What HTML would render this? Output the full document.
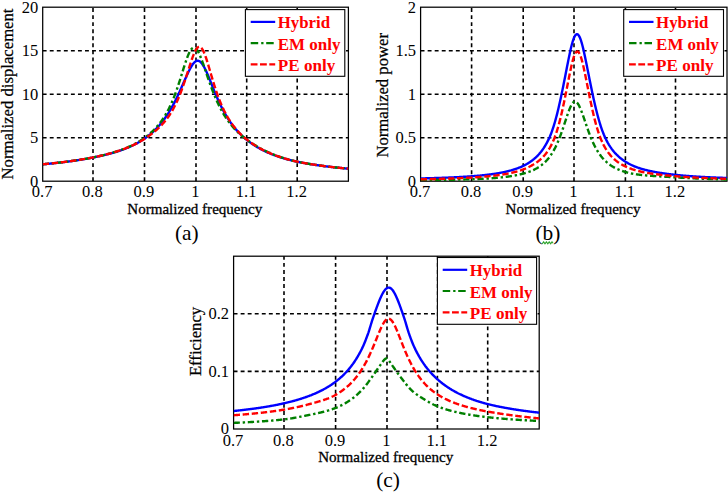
<!DOCTYPE html>
<html><head><meta charset="utf-8"><title>Frequency response</title>
<style>html,body{margin:0;padding:0;background:#fff;}svg{display:block;}text{font-family:"Liberation Serif",serif;fill:#000;}.tk{font-size:16.5px;}.lb{font-size:15.5px;stroke:#000;stroke-width:0.3px;}.yl{font-size:17px;stroke:#000;stroke-width:0.25px;}.cp{font-size:21.4px;}.lg{font-size:17px;font-weight:bold;fill:#ff0000;}</style></head><body>
<svg width="728" height="492" viewBox="0 0 728 492">
<rect x="0" y="0" width="728" height="492" fill="#ffffff"/>
<g id="panel-a">
<path d="M93.00 181.20V7.20M144.50 181.20V7.20M196.00 181.20V7.20M246.70 181.20V7.20M297.20 181.20V7.20M42.70 137.70H348.40M42.70 94.20H348.40M42.70 50.70H348.40" stroke="#000" stroke-width="1.6" stroke-dasharray="3.9 3.15" fill="none"/>
<rect x="42.7" y="7.2" width="305.70" height="174.00" fill="none" stroke="#000" stroke-width="1.25"/>
<clipPath id="clip-a"><rect x="42.7" y="7.2" width="305.7" height="174.0"/></clipPath>
<polyline points="42.70,164.31 43.20,164.26 43.71,164.22 44.21,164.17 44.71,164.13 45.22,164.08 45.72,164.03 46.22,163.98 46.72,163.94 47.23,163.89 47.73,163.84 48.23,163.79 48.74,163.74 49.24,163.69 49.74,163.64 50.25,163.59 50.75,163.54 51.25,163.49 51.75,163.44 52.26,163.39 52.76,163.34 53.26,163.28 53.77,163.23 54.27,163.18 54.77,163.12 55.28,163.07 55.78,163.02 56.28,162.96 56.78,162.91 57.29,162.85 57.79,162.79 58.29,162.74 58.80,162.68 59.30,162.62 59.80,162.57 60.31,162.51 60.81,162.45 61.31,162.39 61.81,162.33 62.32,162.27 62.82,162.21 63.32,162.15 63.83,162.09 64.33,162.03 64.83,161.97 65.34,161.90 65.84,161.84 66.34,161.78 66.84,161.71 67.35,161.65 67.85,161.58 68.35,161.52 68.86,161.45 69.36,161.38 69.86,161.32 70.37,161.25 70.87,161.18 71.37,161.11 71.87,161.04 72.38,160.97 72.88,160.90 73.38,160.83 73.89,160.76 74.39,160.69 74.89,160.61 75.40,160.54 75.90,160.46 76.40,160.39 76.90,160.31 77.41,160.24 77.91,160.16 78.41,160.08 78.92,160.01 79.42,159.93 79.92,159.85 80.42,159.77 80.93,159.69 81.43,159.60 81.93,159.52 82.44,159.44 82.94,159.35 83.44,159.27 83.95,159.18 84.45,159.10 84.95,159.01 85.45,158.92 85.96,158.84 86.46,158.75 86.96,158.66 87.47,158.57 87.97,158.47 88.47,158.38 88.98,158.29 89.48,158.19 89.98,158.10 90.48,158.00 90.99,157.91 91.49,157.81 91.99,157.71 92.50,157.61 93.00,157.51 93.51,157.41 94.03,157.30 94.54,157.20 95.06,157.10 95.57,156.99 96.09,156.88 96.60,156.78 97.12,156.67 97.63,156.56 98.15,156.45 98.66,156.34 99.18,156.23 99.69,156.12 100.21,156.00 100.72,155.89 101.24,155.77 101.75,155.66 102.27,155.54 102.78,155.42 103.30,155.30 103.81,155.18 104.33,155.05 104.84,154.93 105.36,154.81 105.87,154.68 106.39,154.55 106.90,154.42 107.42,154.29 107.93,154.16 108.45,154.03 108.96,153.89 109.48,153.76 109.99,153.62 110.51,153.48 111.02,153.34 111.54,153.20 112.05,153.05 112.57,152.91 113.08,152.76 113.60,152.61 114.11,152.46 114.63,152.31 115.14,152.15 115.66,152.00 116.17,151.84 116.69,151.68 117.20,151.52 117.72,151.35 118.23,151.19 118.75,151.02 119.26,150.85 119.78,150.67 120.29,150.50 120.81,150.32 121.32,150.14 121.84,149.96 122.35,149.78 122.87,149.59 123.38,149.40 123.90,149.21 124.41,149.01 124.93,148.82 125.44,148.62 125.96,148.41 126.47,148.21 126.99,148.00 127.50,147.79 128.02,147.58 128.53,147.36 129.05,147.14 129.56,146.91 130.08,146.69 130.59,146.45 131.11,146.22 131.62,145.98 132.14,145.74 132.65,145.50 133.17,145.25 133.69,145.00 134.20,144.74 134.71,144.48 135.23,144.21 135.75,143.95 136.26,143.67 136.77,143.40 137.29,143.11 137.81,142.83 138.32,142.54 138.83,142.24 139.35,141.94 139.87,141.63 140.38,141.32 140.89,141.01 141.41,140.69 141.93,140.36 142.44,140.03 142.95,139.69 143.47,139.34 143.99,138.99 144.50,138.64 145.01,138.28 145.53,137.91 146.05,137.53 146.56,137.15 147.07,136.76 147.59,136.37 148.11,135.97 148.62,135.56 149.13,135.15 149.65,134.73 150.17,134.30 150.68,133.87 151.19,133.42 151.71,132.97 152.23,132.52 152.74,132.05 153.25,131.58 153.77,131.10 154.29,130.61 154.80,130.11 155.31,129.60 155.83,129.08 156.35,128.56 156.86,128.02 157.38,127.48 157.89,126.92 158.41,126.36 158.92,125.78 159.44,125.20 159.95,124.60 160.47,123.99 160.98,123.38 161.50,122.75 162.01,122.10 162.53,121.45 163.04,120.78 163.56,120.11 164.07,119.42 164.59,118.71 165.10,117.99 165.62,117.26 166.13,116.52 166.65,115.76 167.16,114.99 167.68,114.20 168.19,113.40 168.71,112.59 169.22,111.75 169.74,110.91 170.25,110.05 170.77,109.17 171.28,108.28 171.80,107.37 172.31,106.44 172.83,105.50 173.34,104.55 173.86,103.57 174.37,102.58 174.89,101.58 175.40,100.56 175.92,99.52 176.43,98.47 176.95,97.41 177.46,96.32 177.98,95.23 178.49,94.12 179.01,93.00 179.52,91.87 180.04,90.73 180.55,89.59 181.07,88.43 181.58,87.27 182.10,86.11 182.61,84.94 183.13,83.76 183.64,82.59 184.16,81.42 184.67,80.25 185.19,79.08 185.70,77.92 186.22,76.77 186.73,75.63 187.25,74.51 187.76,73.40 188.28,72.31 188.79,71.25 189.31,70.22 189.82,69.22 190.34,68.25 190.85,67.33 191.37,66.45 191.88,65.61 192.40,64.83 192.91,64.11 193.43,63.44 193.94,62.84 194.46,62.31 194.97,61.85 195.49,61.46 196.00,61.15 196.51,60.92 197.01,60.78 197.52,60.71 198.03,60.73 198.53,60.83 199.04,61.01 199.55,61.28 200.06,61.62 200.56,62.05 201.07,62.55 201.58,63.13 202.08,63.78 202.59,64.50 203.10,65.28 203.61,66.13 204.11,67.03 204.62,67.98 205.13,68.98 205.63,70.03 206.14,71.11 206.65,72.23 207.15,73.39 207.66,74.56 208.17,75.77 208.67,76.99 209.18,78.23 209.69,79.48 210.20,80.74 210.70,82.00 211.21,83.27 211.72,84.54 212.22,85.81 212.73,87.08 213.24,88.34 213.75,89.59 214.25,90.83 214.76,92.07 215.27,93.29 215.77,94.50 216.28,95.69 216.79,96.87 217.29,98.04 217.80,99.19 218.31,100.32 218.81,101.44 219.32,102.53 219.83,103.61 220.34,104.68 220.84,105.72 221.35,106.75 221.86,107.76 222.36,108.75 222.87,109.73 223.38,110.68 223.89,111.62 224.39,112.54 224.90,113.45 225.41,114.34 225.91,115.21 226.42,116.06 226.93,116.90 227.43,117.72 227.94,118.53 228.45,119.32 228.95,120.09 229.46,120.85 229.97,121.60 230.48,122.33 230.98,123.05 231.49,123.75 232.00,124.44 232.50,125.12 233.01,125.79 233.52,126.44 234.03,127.08 234.53,127.71 235.04,128.32 235.55,128.93 236.05,129.52 236.56,130.10 237.07,130.68 237.57,131.24 238.08,131.79 238.59,132.33 239.09,132.86 239.60,133.39 240.11,133.90 240.62,134.40 241.12,134.90 241.63,135.38 242.14,135.86 242.64,136.33 243.15,136.79 243.66,137.25 244.16,137.70 244.67,138.13 245.18,138.57 245.69,138.99 246.19,139.41 246.70,139.82 247.20,140.23 247.71,140.63 248.21,141.02 248.72,141.40 249.22,141.78 249.73,142.16 250.23,142.53 250.74,142.89 251.24,143.25 251.75,143.60 252.25,143.95 252.76,144.29 253.26,144.63 253.77,144.96 254.27,145.28 254.78,145.61 255.28,145.92 255.79,146.24 256.29,146.54 256.80,146.85 257.30,147.15 257.81,147.44 258.31,147.73 258.82,148.02 259.32,148.30 259.83,148.58 260.33,148.86 260.84,149.13 261.34,149.39 261.85,149.66 262.35,149.92 262.86,150.18 263.36,150.43 263.87,150.68 264.38,150.92 264.88,151.17 265.38,151.41 265.89,151.64 266.39,151.88 266.90,152.11 267.40,152.33 267.91,152.56 268.41,152.78 268.92,153.00 269.42,153.21 269.93,153.43 270.44,153.64 270.94,153.84 271.44,154.05 271.95,154.25 272.45,154.45 272.96,154.65 273.46,154.84 273.97,155.03 274.48,155.22 274.98,155.41 275.49,155.59 275.99,155.78 276.50,155.95 277.00,156.13 277.50,156.31 278.01,156.48 278.51,156.65 279.02,156.82 279.52,156.99 280.03,157.15 280.54,157.32 281.04,157.48 281.55,157.63 282.05,157.79 282.56,157.95 283.06,158.10 283.56,158.25 284.07,158.40 284.58,158.55 285.08,158.69 285.59,158.83 286.09,158.98 286.60,159.12 287.10,159.26 287.61,159.39 288.11,159.53 288.62,159.66 289.12,159.79 289.62,159.92 290.13,160.05 290.64,160.18 291.14,160.30 291.65,160.43 292.15,160.55 292.66,160.67 293.16,160.79 293.67,160.90 294.17,161.02 294.68,161.13 295.18,161.25 295.69,161.36 296.19,161.47 296.70,161.58 297.20,161.69 297.71,161.79 298.22,161.90 298.74,162.00 299.25,162.11 299.76,162.21 300.27,162.31 300.78,162.41 301.30,162.51 301.81,162.61 302.32,162.71 302.83,162.80 303.34,162.90 303.86,162.99 304.37,163.09 304.88,163.18 305.39,163.27 305.90,163.36 306.42,163.45 306.93,163.54 307.44,163.63 307.95,163.72 308.46,163.81 308.98,163.89 309.49,163.98 310.00,164.06 310.51,164.15 311.02,164.23 311.54,164.31 312.05,164.39 312.56,164.47 313.07,164.55 313.58,164.63 314.10,164.71 314.61,164.79 315.12,164.87 315.63,164.94 316.14,165.02 316.66,165.09 317.17,165.17 317.68,165.24 318.19,165.31 318.70,165.39 319.22,165.46 319.73,165.53 320.24,165.60 320.75,165.67 321.26,165.74 321.78,165.81 322.29,165.88 322.80,165.94 323.31,166.01 323.82,166.08 324.34,166.14 324.85,166.21 325.36,166.27 325.87,166.34 326.38,166.40 326.90,166.46 327.41,166.53 327.92,166.59 328.43,166.65 328.94,166.71 329.46,166.77 329.97,166.83 330.48,166.89 330.99,166.95 331.50,167.00 332.02,167.06 332.53,167.12 333.04,167.18 333.55,167.23 334.06,167.29 334.58,167.34 335.09,167.40 335.60,167.45 336.11,167.50 336.62,167.56 337.14,167.61 337.65,167.66 338.16,167.71 338.67,167.77 339.18,167.82 339.70,167.87 340.21,167.92 340.72,167.97 341.23,168.02 341.74,168.06 342.26,168.11 342.77,168.16 343.28,168.21 343.79,168.25 344.30,168.30 344.82,168.35 345.33,168.39 345.84,168.44 346.35,168.48 346.86,168.53 347.38,168.57 347.89,168.62 348.40,168.66" fill="none" stroke="#0000ff" stroke-width="2.4"  stroke-linejoin="round" clip-path="url(#clip-a)"/>
<polyline points="42.70,164.28 43.20,164.23 43.71,164.19 44.21,164.14 44.71,164.09 45.22,164.04 45.72,163.99 46.22,163.95 46.72,163.90 47.23,163.85 47.73,163.80 48.23,163.75 48.74,163.70 49.24,163.65 49.74,163.60 50.25,163.55 50.75,163.50 51.25,163.44 51.75,163.39 52.26,163.34 52.76,163.29 53.26,163.23 53.77,163.18 54.27,163.13 54.77,163.07 55.28,163.02 55.78,162.96 56.28,162.91 56.78,162.85 57.29,162.79 57.79,162.74 58.29,162.68 58.80,162.62 59.30,162.57 59.80,162.51 60.31,162.45 60.81,162.39 61.31,162.33 61.81,162.27 62.32,162.21 62.82,162.15 63.32,162.09 63.83,162.02 64.33,161.96 64.83,161.90 65.34,161.84 65.84,161.77 66.34,161.71 66.84,161.64 67.35,161.58 67.85,161.51 68.35,161.45 68.86,161.38 69.36,161.31 69.86,161.24 70.37,161.18 70.87,161.11 71.37,161.04 71.87,160.97 72.38,160.90 72.88,160.83 73.38,160.75 73.89,160.68 74.39,160.61 74.89,160.54 75.40,160.46 75.90,160.39 76.40,160.31 76.90,160.24 77.41,160.16 77.91,160.08 78.41,160.00 78.92,159.93 79.42,159.85 79.92,159.77 80.42,159.69 80.93,159.60 81.43,159.52 81.93,159.44 82.44,159.36 82.94,159.27 83.44,159.19 83.95,159.10 84.45,159.02 84.95,158.93 85.45,158.84 85.96,158.75 86.46,158.66 86.96,158.57 87.47,158.48 87.97,158.39 88.47,158.30 88.98,158.20 89.48,158.11 89.98,158.01 90.48,157.91 90.99,157.82 91.49,157.72 91.99,157.62 92.50,157.52 93.00,157.42 93.51,157.32 94.03,157.21 94.54,157.11 95.06,157.00 95.57,156.90 96.09,156.79 96.60,156.68 97.12,156.57 97.63,156.46 98.15,156.35 98.66,156.24 99.18,156.13 99.69,156.01 100.21,155.89 100.72,155.78 101.24,155.66 101.75,155.54 102.27,155.42 102.78,155.30 103.30,155.17 103.81,155.05 104.33,154.92 104.84,154.79 105.36,154.66 105.87,154.53 106.39,154.40 106.90,154.27 107.42,154.13 107.93,154.00 108.45,153.86 108.96,153.72 109.48,153.58 109.99,153.44 110.51,153.29 111.02,153.15 111.54,153.00 112.05,152.85 112.57,152.70 113.08,152.55 113.60,152.39 114.11,152.24 114.63,152.08 115.14,151.92 115.66,151.75 116.17,151.59 116.69,151.42 117.20,151.26 117.72,151.09 118.23,150.91 118.75,150.74 119.26,150.56 119.78,150.38 120.29,150.20 120.81,150.02 121.32,149.83 121.84,149.64 122.35,149.45 122.87,149.25 123.38,149.06 123.90,148.86 124.41,148.66 124.93,148.45 125.44,148.24 125.96,148.03 126.47,147.82 126.99,147.60 127.50,147.39 128.02,147.16 128.53,146.94 129.05,146.71 129.56,146.48 130.08,146.24 130.59,146.00 131.11,145.76 131.62,145.51 132.14,145.26 132.65,145.01 133.17,144.75 133.69,144.49 134.20,144.22 134.71,143.95 135.23,143.68 135.75,143.40 136.26,143.12 136.77,142.83 137.29,142.54 137.81,142.24 138.32,141.94 138.83,141.63 139.35,141.32 139.87,141.00 140.38,140.68 140.89,140.35 141.41,140.02 141.93,139.68 142.44,139.33 142.95,138.98 143.47,138.62 143.99,138.26 144.50,137.89 145.01,137.51 145.53,137.13 146.05,136.74 146.56,136.35 147.07,135.94 147.59,135.54 148.11,135.12 148.62,134.70 149.13,134.27 149.65,133.83 150.17,133.39 150.68,132.93 151.19,132.47 151.71,132.00 152.23,131.52 152.74,131.03 153.25,130.53 153.77,130.02 154.29,129.50 154.80,128.97 155.31,128.43 155.83,127.88 156.35,127.32 156.86,126.74 157.38,126.15 157.89,125.55 158.41,124.93 158.92,124.30 159.44,123.66 159.95,123.00 160.47,122.32 160.98,121.63 161.50,120.92 162.01,120.20 162.53,119.45 163.04,118.69 163.56,117.91 164.07,117.12 164.59,116.30 165.10,115.46 165.62,114.60 166.13,113.71 166.65,112.81 167.16,111.88 167.68,110.93 168.19,109.95 168.71,108.95 169.22,107.93 169.74,106.87 170.25,105.79 170.77,104.69 171.28,103.55 171.80,102.39 172.31,101.20 172.83,99.98 173.34,98.72 173.86,97.44 174.37,96.13 174.89,94.79 175.40,93.42 175.92,92.01 176.43,90.58 176.95,89.11 177.46,87.62 177.98,86.10 178.49,84.55 179.01,82.98 179.52,81.38 180.04,79.77 180.55,78.14 181.07,76.49 181.58,74.84 182.10,73.18 182.61,71.52 183.13,69.86 183.64,68.21 184.16,66.58 184.67,64.97 185.19,63.39 185.70,61.84 186.22,60.33 186.73,58.87 187.25,57.47 187.76,56.14 188.28,54.87 188.79,53.69 189.31,52.59 189.82,51.59 190.34,50.69 190.85,49.90 191.37,49.22 191.88,48.66 192.40,48.22 192.91,47.91 193.43,47.72 193.94,47.66 194.46,47.72 194.97,47.91 195.49,48.22 196.00,48.65 196.51,49.19 197.01,49.84 197.52,50.60 198.03,51.46 198.53,52.40 199.04,53.43 199.55,54.53 200.06,55.70 200.56,56.94 201.07,58.22 201.58,59.55 202.08,60.92 202.59,62.33 203.10,63.76 203.61,65.21 204.11,66.68 204.62,68.16 205.13,69.65 205.63,71.14 206.14,72.63 206.65,74.12 207.15,75.60 207.66,77.08 208.17,78.54 208.67,79.99 209.18,81.43 209.69,82.85 210.20,84.26 210.70,85.65 211.21,87.02 211.72,88.37 212.22,89.71 212.73,91.02 213.24,92.32 213.75,93.60 214.25,94.85 214.76,96.09 215.27,97.30 215.77,98.49 216.28,99.65 216.79,100.79 217.29,101.91 217.80,103.01 218.31,104.08 218.81,105.13 219.32,106.16 219.83,107.17 220.34,108.16 220.84,109.12 221.35,110.07 221.86,111.00 222.36,111.90 222.87,112.79 223.38,113.66 223.89,114.51 224.39,115.34 224.90,116.16 225.41,116.96 225.91,117.74 226.42,118.51 226.93,119.26 227.43,119.99 227.94,120.71 228.45,121.42 228.95,122.11 229.46,122.78 229.97,123.45 230.48,124.10 230.98,124.73 231.49,125.36 232.00,125.97 232.50,126.57 233.01,127.16 233.52,127.74 234.03,128.31 234.53,128.86 235.04,129.41 235.55,129.94 236.05,130.47 236.56,130.99 237.07,131.49 237.57,131.99 238.08,132.48 238.59,132.96 239.09,133.43 239.60,133.89 240.11,134.34 240.62,134.79 241.12,135.23 241.63,135.66 242.14,136.08 242.64,136.50 243.15,136.91 243.66,137.31 244.16,137.71 244.67,138.10 245.18,138.48 245.69,138.87 246.19,139.24 246.70,139.61 247.20,139.98 247.71,140.35 248.21,140.71 248.72,141.06 249.22,141.41 249.73,141.76 250.23,142.10 250.74,142.44 251.24,142.78 251.75,143.11 252.25,143.44 252.76,143.76 253.26,144.08 253.77,144.40 254.27,144.71 254.78,145.03 255.28,145.33 255.79,145.64 256.29,145.94 256.80,146.23 257.30,146.53 257.81,146.82 258.31,147.11 258.82,147.39 259.32,147.67 259.83,147.95 260.33,148.22 260.84,148.50 261.34,148.77 261.85,149.03 262.35,149.29 262.86,149.56 263.36,149.81 263.87,150.07 264.38,150.32 264.88,150.57 265.38,150.82 265.89,151.06 266.39,151.30 266.90,151.54 267.40,151.77 267.91,152.01 268.41,152.24 268.92,152.47 269.42,152.69 269.93,152.92 270.44,153.14 270.94,153.35 271.44,153.57 271.95,153.78 272.45,153.99 272.96,154.20 273.46,154.41 273.97,154.61 274.48,154.81 274.98,155.01 275.49,155.21 275.99,155.40 276.50,155.59 277.00,155.78 277.50,155.97 278.01,156.16 278.51,156.34 279.02,156.52 279.52,156.70 280.03,156.87 280.54,157.05 281.04,157.22 281.55,157.39 282.05,157.56 282.56,157.72 283.06,157.89 283.56,158.05 284.07,158.21 284.58,158.36 285.08,158.52 285.59,158.67 286.09,158.82 286.60,158.97 287.10,159.12 287.61,159.26 288.11,159.41 288.62,159.55 289.12,159.68 289.62,159.82 290.13,159.96 290.64,160.09 291.14,160.22 291.65,160.35 292.15,160.48 292.66,160.60 293.16,160.73 293.67,160.85 294.17,160.97 294.68,161.08 295.18,161.20 295.69,161.31 296.19,161.42 296.70,161.54 297.20,161.64 297.71,161.75 298.22,161.86 298.74,161.96 299.25,162.06 299.76,162.17 300.27,162.27 300.78,162.37 301.30,162.47 301.81,162.57 302.32,162.67 302.83,162.76 303.34,162.86 303.86,162.96 304.37,163.05 304.88,163.14 305.39,163.24 305.90,163.33 306.42,163.42 306.93,163.51 307.44,163.60 307.95,163.69 308.46,163.77 308.98,163.86 309.49,163.95 310.00,164.03 310.51,164.12 311.02,164.20 311.54,164.28 312.05,164.37 312.56,164.45 313.07,164.53 313.58,164.61 314.10,164.69 314.61,164.77 315.12,164.84 315.63,164.92 316.14,165.00 316.66,165.07 317.17,165.15 317.68,165.22 318.19,165.30 318.70,165.37 319.22,165.44 319.73,165.51 320.24,165.58 320.75,165.65 321.26,165.72 321.78,165.79 322.29,165.86 322.80,165.93 323.31,166.00 323.82,166.06 324.34,166.13 324.85,166.20 325.36,166.26 325.87,166.32 326.38,166.39 326.90,166.45 327.41,166.51 327.92,166.58 328.43,166.64 328.94,166.70 329.46,166.76 329.97,166.82 330.48,166.88 330.99,166.94 331.50,167.00 332.02,167.05 332.53,167.11 333.04,167.17 333.55,167.22 334.06,167.28 334.58,167.33 335.09,167.39 335.60,167.44 336.11,167.50 336.62,167.55 337.14,167.60 337.65,167.66 338.16,167.71 338.67,167.76 339.18,167.81 339.70,167.86 340.21,167.91 340.72,167.96 341.23,168.01 341.74,168.06 342.26,168.10 342.77,168.15 343.28,168.20 343.79,168.25 344.30,168.29 344.82,168.34 345.33,168.38 345.84,168.43 346.35,168.47 346.86,168.52 347.38,168.56 347.89,168.61 348.40,168.65" fill="none" stroke="#007f00" stroke-width="2.4" stroke-dasharray="6.3 2.8 2.4 2.7" stroke-linejoin="round" clip-path="url(#clip-a)"/>
<polyline points="42.70,164.28 43.20,164.23 43.71,164.18 44.21,164.13 44.71,164.09 45.22,164.04 45.72,163.99 46.22,163.94 46.72,163.89 47.23,163.84 47.73,163.79 48.23,163.74 48.74,163.69 49.24,163.64 49.74,163.59 50.25,163.54 50.75,163.49 51.25,163.43 51.75,163.38 52.26,163.33 52.76,163.27 53.26,163.22 53.77,163.17 54.27,163.11 54.77,163.06 55.28,163.00 55.78,162.95 56.28,162.89 56.78,162.84 57.29,162.78 57.79,162.72 58.29,162.66 58.80,162.61 59.30,162.55 59.80,162.49 60.31,162.43 60.81,162.37 61.31,162.31 61.81,162.25 62.32,162.19 62.82,162.13 63.32,162.07 63.83,162.00 64.33,161.94 64.83,161.88 65.34,161.81 65.84,161.75 66.34,161.69 66.84,161.62 67.35,161.56 67.85,161.49 68.35,161.42 68.86,161.36 69.36,161.29 69.86,161.22 70.37,161.15 70.87,161.08 71.37,161.01 71.87,160.94 72.38,160.87 72.88,160.80 73.38,160.73 73.89,160.66 74.39,160.58 74.89,160.51 75.40,160.44 75.90,160.36 76.40,160.29 76.90,160.21 77.41,160.14 77.91,160.06 78.41,159.98 78.92,159.90 79.42,159.82 79.92,159.74 80.42,159.66 80.93,159.58 81.43,159.50 81.93,159.42 82.44,159.33 82.94,159.25 83.44,159.17 83.95,159.08 84.45,159.00 84.95,158.91 85.45,158.82 85.96,158.73 86.46,158.64 86.96,158.55 87.47,158.46 87.97,158.37 88.47,158.28 88.98,158.19 89.48,158.09 89.98,158.00 90.48,157.90 90.99,157.81 91.49,157.71 91.99,157.61 92.50,157.51 93.00,157.41 93.51,157.31 94.03,157.21 94.54,157.11 95.06,157.00 95.57,156.90 96.09,156.79 96.60,156.68 97.12,156.58 97.63,156.47 98.15,156.35 98.66,156.24 99.18,156.13 99.69,156.02 100.21,155.90 100.72,155.78 101.24,155.67 101.75,155.55 102.27,155.43 102.78,155.30 103.30,155.18 103.81,155.06 104.33,154.93 104.84,154.80 105.36,154.68 105.87,154.55 106.39,154.41 106.90,154.28 107.42,154.15 107.93,154.01 108.45,153.88 108.96,153.74 109.48,153.60 109.99,153.46 110.51,153.31 111.02,153.17 111.54,153.02 112.05,152.87 112.57,152.73 113.08,152.57 113.60,152.42 114.11,152.27 114.63,152.11 115.14,151.95 115.66,151.79 116.17,151.63 116.69,151.47 117.20,151.30 117.72,151.14 118.23,150.97 118.75,150.80 119.26,150.62 119.78,150.45 120.29,150.27 120.81,150.09 121.32,149.91 121.84,149.73 122.35,149.55 122.87,149.36 123.38,149.17 123.90,148.98 124.41,148.78 124.93,148.59 125.44,148.39 125.96,148.18 126.47,147.98 126.99,147.77 127.50,147.57 128.02,147.35 128.53,147.14 129.05,146.92 129.56,146.70 130.08,146.48 130.59,146.26 131.11,146.03 131.62,145.80 132.14,145.56 132.65,145.33 133.17,145.09 133.69,144.84 134.20,144.60 134.71,144.35 135.23,144.09 135.75,143.84 136.26,143.58 136.77,143.31 137.29,143.05 137.81,142.78 138.32,142.50 138.83,142.22 139.35,141.94 139.87,141.65 140.38,141.36 140.89,141.07 141.41,140.77 141.93,140.47 142.44,140.16 142.95,139.85 143.47,139.53 143.99,139.21 144.50,138.88 145.01,138.55 145.53,138.21 146.05,137.87 146.56,137.53 147.07,137.17 147.59,136.82 148.11,136.46 148.62,136.10 149.13,135.74 149.65,135.37 150.17,134.99 150.68,134.61 151.19,134.23 151.71,133.84 152.23,133.44 152.74,133.04 153.25,132.64 153.77,132.23 154.29,131.81 154.80,131.38 155.31,130.95 155.83,130.51 156.35,130.07 156.86,129.61 157.38,129.15 157.89,128.68 158.41,128.20 158.92,127.72 159.44,127.22 159.95,126.71 160.47,126.20 160.98,125.67 161.50,125.14 162.01,124.59 162.53,124.03 163.04,123.46 163.56,122.87 164.07,122.27 164.59,121.66 165.10,121.04 165.62,120.40 166.13,119.75 166.65,119.08 167.16,118.39 167.68,117.69 168.19,116.98 168.71,116.24 169.22,115.49 169.74,114.71 170.25,113.92 170.77,113.11 171.28,112.27 171.80,111.42 172.31,110.54 172.83,109.64 173.34,108.72 173.86,107.77 174.37,106.79 174.89,105.80 175.40,104.77 175.92,103.72 176.43,102.64 176.95,101.53 177.46,100.39 177.98,99.23 178.49,98.03 179.01,96.81 179.52,95.55 180.04,94.27 180.55,92.95 181.07,91.60 181.58,90.23 182.10,88.83 182.61,87.40 183.13,85.94 183.64,84.46 184.16,82.96 184.67,81.43 185.19,79.88 185.70,78.31 186.22,76.72 186.73,75.12 187.25,73.51 187.76,71.89 188.28,70.27 188.79,68.64 189.31,67.03 189.82,65.42 190.34,63.84 190.85,62.27 191.37,60.74 191.88,59.24 192.40,57.79 192.91,56.40 193.43,55.06 193.94,53.80 194.46,52.62 194.97,51.52 195.49,50.52 196.00,49.62 196.51,48.84 197.01,48.17 197.52,47.63 198.03,47.22 198.53,46.94 199.04,46.80 199.55,46.80 200.06,46.94 200.56,47.22 201.07,47.64 201.58,48.19 202.08,48.87 202.59,49.68 203.10,50.60 203.61,51.64 204.11,52.78 204.62,54.02 205.13,55.34 205.63,56.75 206.14,58.22 206.65,59.75 207.15,61.34 207.66,62.97 208.17,64.63 208.67,66.33 209.18,68.04 209.69,69.77 210.20,71.51 210.70,73.24 211.21,74.98 211.72,76.70 212.22,78.41 212.73,80.11 213.24,81.79 213.75,83.44 214.25,85.07 214.76,86.67 215.27,88.24 215.77,89.78 216.28,91.29 216.79,92.76 217.29,94.21 217.80,95.61 218.31,96.99 218.81,98.34 219.32,99.65 219.83,100.94 220.34,102.19 220.84,103.41 221.35,104.61 221.86,105.77 222.36,106.91 222.87,108.02 223.38,109.10 223.89,110.15 224.39,111.18 224.90,112.19 225.41,113.16 225.91,114.12 226.42,115.05 226.93,115.96 227.43,116.85 227.94,117.71 228.45,118.56 228.95,119.39 229.46,120.19 229.97,120.98 230.48,121.75 230.98,122.50 231.49,123.23 232.00,123.95 232.50,124.65 233.01,125.34 233.52,126.01 234.03,126.67 234.53,127.31 235.04,127.94 235.55,128.55 236.05,129.15 236.56,129.74 237.07,130.32 237.57,130.89 238.08,131.44 238.59,131.99 239.09,132.52 239.60,133.05 240.11,133.56 240.62,134.07 241.12,134.56 241.63,135.05 242.14,135.52 242.64,135.99 243.15,136.45 243.66,136.91 244.16,137.35 244.67,137.79 245.18,138.22 245.69,138.65 246.19,139.06 246.70,139.48 247.20,139.88 247.71,140.28 248.21,140.67 248.72,141.06 249.22,141.44 249.73,141.81 250.23,142.18 250.74,142.54 251.24,142.90 251.75,143.26 252.25,143.60 252.76,143.95 253.26,144.28 253.77,144.62 254.27,144.95 254.78,145.27 255.28,145.59 255.79,145.90 256.29,146.21 256.80,146.52 257.30,146.82 257.81,147.12 258.31,147.41 258.82,147.70 259.32,147.99 259.83,148.27 260.33,148.55 260.84,148.82 261.34,149.09 261.85,149.36 262.35,149.62 262.86,149.89 263.36,150.14 263.87,150.40 264.38,150.65 264.88,150.89 265.38,151.14 265.89,151.38 266.39,151.62 266.90,151.85 267.40,152.08 267.91,152.31 268.41,152.54 268.92,152.76 269.42,152.98 269.93,153.20 270.44,153.41 270.94,153.62 271.44,153.83 271.95,154.04 272.45,154.24 272.96,154.44 273.46,154.64 273.97,154.84 274.48,155.03 274.98,155.22 275.49,155.41 275.99,155.60 276.50,155.79 277.00,155.97 277.50,156.15 278.01,156.33 278.51,156.50 279.02,156.67 279.52,156.85 280.03,157.01 280.54,157.18 281.04,157.35 281.55,157.51 282.05,157.67 282.56,157.83 283.06,157.99 283.56,158.14 284.07,158.29 284.58,158.44 285.08,158.59 285.59,158.74 286.09,158.89 286.60,159.03 287.10,159.17 287.61,159.31 288.11,159.45 288.62,159.58 289.12,159.72 289.62,159.85 290.13,159.98 290.64,160.11 291.14,160.24 291.65,160.36 292.15,160.49 292.66,160.61 293.16,160.73 293.67,160.85 294.17,160.97 294.68,161.08 295.18,161.20 295.69,161.31 296.19,161.42 296.70,161.53 297.20,161.64 297.71,161.75 298.22,161.85 298.74,161.96 299.25,162.06 299.76,162.16 300.27,162.27 300.78,162.37 301.30,162.47 301.81,162.57 302.32,162.66 302.83,162.76 303.34,162.86 303.86,162.95 304.37,163.04 304.88,163.14 305.39,163.23 305.90,163.32 306.42,163.41 306.93,163.50 307.44,163.59 307.95,163.68 308.46,163.76 308.98,163.85 309.49,163.94 310.00,164.02 310.51,164.11 311.02,164.19 311.54,164.27 312.05,164.35 312.56,164.43 313.07,164.51 313.58,164.59 314.10,164.67 314.61,164.75 315.12,164.83 315.63,164.90 316.14,164.98 316.66,165.05 317.17,165.13 317.68,165.20 318.19,165.28 318.70,165.35 319.22,165.42 319.73,165.49 320.24,165.56 320.75,165.63 321.26,165.70 321.78,165.77 322.29,165.84 322.80,165.91 323.31,165.97 323.82,166.04 324.34,166.10 324.85,166.17 325.36,166.23 325.87,166.30 326.38,166.36 326.90,166.43 327.41,166.49 327.92,166.55 328.43,166.61 328.94,166.67 329.46,166.73 329.97,166.79 330.48,166.85 330.99,166.91 331.50,166.97 332.02,167.03 332.53,167.08 333.04,167.14 333.55,167.20 334.06,167.25 334.58,167.31 335.09,167.36 335.60,167.42 336.11,167.47 336.62,167.53 337.14,167.58 337.65,167.63 338.16,167.69 338.67,167.74 339.18,167.79 339.70,167.84 340.21,167.89 340.72,167.94 341.23,167.99 341.74,168.04 342.26,168.09 342.77,168.14 343.28,168.19 343.79,168.23 344.30,168.28 344.82,168.33 345.33,168.38 345.84,168.42 346.35,168.47 346.86,168.51 347.38,168.56 347.89,168.60 348.40,168.65" fill="none" stroke="#ff0000" stroke-width="2.4" stroke-dasharray="6.4 2.7" stroke-linejoin="round" clip-path="url(#clip-a)"/>
<text class="tk" x="42.1" y="197.0" text-anchor="middle">0.7</text>
<text class="tk" x="92.4" y="197.0" text-anchor="middle">0.8</text>
<text class="tk" x="143.9" y="197.0" text-anchor="middle">0.9</text>
<text class="tk" x="195.4" y="197.0" text-anchor="middle">1</text>
<text class="tk" x="246.1" y="197.0" text-anchor="middle">1.1</text>
<text class="tk" x="296.6" y="197.0" text-anchor="middle">1.2</text>
<text class="tk" x="38.2" y="186.5" text-anchor="end">0</text>
<text class="tk" x="38.2" y="143.0" text-anchor="end">5</text>
<text class="tk" x="38.2" y="99.5" text-anchor="end">10</text>
<text class="tk" x="38.2" y="56.0" text-anchor="end">15</text>
<text class="tk" x="38.2" y="12.5" text-anchor="end">20</text>
<text class="lb" x="127.3" y="214.1" textLength="135" lengthAdjust="spacingAndGlyphs">Normalized frequency</text>
<text class="yl" transform="translate(13.4,179.5) rotate(-90)" textLength="171" lengthAdjust="spacingAndGlyphs">Normalized displacement</text>
<text class="cp" x="186.8" y="239.6" text-anchor="middle">(a)</text>
<rect x="244.4" y="9.1" width="101.40" height="68.20" fill="#fff"/>
<rect x="245.4" y="9.6" width="99.40" height="66.70" fill="#fff" stroke="#000" stroke-width="1.1"/>
<line x1="250.7" y1="21.9" x2="275.2" y2="21.9" stroke="#0000ff" stroke-width="2.2" />
<text class="lg" x="277.8" y="27.7" textLength="52.3" lengthAdjust="spacingAndGlyphs">Hybrid</text>
<line x1="250.7" y1="43.1" x2="275.2" y2="43.1" stroke="#007f00" stroke-width="2.2" stroke-dasharray="7.5 3 2.3 2.7"/>
<text class="lg" x="277.8" y="50.1" textLength="62.6" lengthAdjust="spacingAndGlyphs">EM only</text>
<line x1="250.7" y1="64.4" x2="275.2" y2="64.4" stroke="#ff0000" stroke-width="2.2" stroke-dasharray="6.8 2.5"/>
<text class="lg" x="277.8" y="70.7" textLength="57.4" lengthAdjust="spacingAndGlyphs">PE only</text>
</g>
<g id="panel-b">
<path d="M471.60 181.20V7.20M523.20 181.20V7.20M574.00 181.20V7.20M625.40 181.20V7.20M675.50 181.20V7.20M420.60 137.70H727.00M420.60 94.20H727.00M420.60 50.70H727.00" stroke="#000" stroke-width="1.6" stroke-dasharray="3.9 3.15" fill="none"/>
<rect x="420.6" y="7.2" width="306.40" height="174.00" fill="none" stroke="#000" stroke-width="1.25"/>
<clipPath id="clip-b"><rect x="420.6" y="7.2" width="306.4" height="174.0"/></clipPath>
<polyline points="420.60,178.45 421.11,178.44 421.62,178.42 422.13,178.41 422.64,178.39 423.15,178.38 423.66,178.37 424.17,178.35 424.68,178.34 425.19,178.33 425.70,178.32 426.21,178.30 426.72,178.29 427.23,178.28 427.74,178.26 428.25,178.25 428.76,178.24 429.27,178.22 429.78,178.21 430.29,178.19 430.80,178.18 431.31,178.16 431.82,178.15 432.33,178.14 432.84,178.12 433.35,178.11 433.86,178.09 434.37,178.07 434.88,178.06 435.39,178.04 435.90,178.03 436.41,178.01 436.92,178.00 437.43,177.98 437.94,177.96 438.45,177.95 438.96,177.93 439.47,177.91 439.98,177.89 440.49,177.88 441.00,177.86 441.51,177.84 442.02,177.82 442.53,177.80 443.04,177.79 443.55,177.77 444.06,177.75 444.57,177.73 445.08,177.71 445.59,177.69 446.10,177.67 446.61,177.65 447.12,177.63 447.63,177.61 448.14,177.59 448.65,177.57 449.16,177.54 449.67,177.52 450.18,177.50 450.69,177.48 451.20,177.46 451.71,177.43 452.22,177.41 452.73,177.39 453.24,177.36 453.75,177.34 454.26,177.32 454.77,177.29 455.28,177.27 455.79,177.24 456.30,177.22 456.81,177.19 457.32,177.16 457.83,177.14 458.34,177.11 458.85,177.08 459.36,177.06 459.87,177.03 460.38,177.00 460.89,176.97 461.40,176.94 461.91,176.91 462.42,176.88 462.93,176.85 463.44,176.82 463.95,176.79 464.46,176.76 464.97,176.73 465.48,176.70 465.99,176.66 466.50,176.63 467.01,176.60 467.52,176.56 468.03,176.53 468.54,176.49 469.05,176.46 469.56,176.42 470.07,176.38 470.58,176.35 471.09,176.31 471.60,176.27 472.12,176.23 472.63,176.19 473.15,176.15 473.66,176.11 474.18,176.07 474.70,176.03 475.21,175.98 475.73,175.94 476.24,175.90 476.76,175.85 477.28,175.81 477.79,175.76 478.31,175.71 478.82,175.67 479.34,175.62 479.86,175.57 480.37,175.52 480.89,175.47 481.40,175.42 481.92,175.37 482.44,175.31 482.95,175.26 483.47,175.21 483.98,175.15 484.50,175.09 485.02,175.04 485.53,174.98 486.05,174.92 486.56,174.86 487.08,174.80 487.60,174.74 488.11,174.67 488.63,174.61 489.14,174.54 489.66,174.48 490.18,174.41 490.69,174.34 491.21,174.27 491.72,174.20 492.24,174.13 492.76,174.06 493.27,173.98 493.79,173.91 494.30,173.83 494.82,173.75 495.34,173.67 495.85,173.59 496.37,173.51 496.88,173.42 497.40,173.34 497.92,173.25 498.43,173.16 498.95,173.07 499.46,172.98 499.98,172.88 500.50,172.79 501.01,172.69 501.53,172.59 502.04,172.49 502.56,172.38 503.08,172.28 503.59,172.17 504.11,172.06 504.62,171.95 505.14,171.84 505.66,171.72 506.17,171.60 506.69,171.48 507.20,171.36 507.72,171.24 508.24,171.11 508.75,170.98 509.27,170.84 509.78,170.71 510.30,170.57 510.82,170.43 511.33,170.28 511.85,170.13 512.36,169.98 512.88,169.83 513.40,169.67 513.91,169.51 514.43,169.35 514.94,169.18 515.46,169.01 515.98,168.83 516.49,168.65 517.01,168.47 517.52,168.28 518.04,168.09 518.56,167.89 519.07,167.69 519.59,167.49 520.10,167.28 520.62,167.06 521.14,166.84 521.65,166.61 522.17,166.38 522.68,166.15 523.20,165.90 523.71,165.65 524.22,165.40 524.72,165.14 525.23,164.87 525.74,164.60 526.25,164.31 526.76,164.03 527.26,163.73 527.77,163.43 528.28,163.12 528.79,162.80 529.30,162.47 529.80,162.14 530.31,161.79 530.82,161.44 531.33,161.08 531.84,160.71 532.34,160.32 532.85,159.93 533.36,159.52 533.87,159.11 534.38,158.68 534.88,158.24 535.39,157.79 535.90,157.32 536.41,156.84 536.92,156.35 537.42,155.84 537.93,155.32 538.44,154.77 538.95,154.22 539.46,153.64 539.96,153.05 540.47,152.44 540.98,151.81 541.49,151.15 542.00,150.48 542.50,149.79 543.01,149.07 543.52,148.33 544.03,147.56 544.54,146.77 545.04,145.95 545.55,145.10 546.06,144.22 546.57,143.31 547.08,142.37 547.58,141.40 548.09,140.40 548.60,139.36 549.11,138.28 549.62,137.15 550.12,135.97 550.63,134.73 551.14,133.44 551.65,132.09 552.16,130.68 552.66,129.21 553.17,127.68 553.68,126.09 554.19,124.45 554.70,122.74 555.20,120.98 555.71,119.15 556.22,117.27 556.73,115.33 557.24,113.33 557.74,111.28 558.25,109.18 558.76,107.02 559.27,104.81 559.78,102.55 560.28,100.25 560.79,97.90 561.30,95.51 561.81,93.09 562.32,90.63 562.82,88.15 563.33,85.64 563.84,83.11 564.35,80.56 564.86,77.99 565.36,75.40 565.87,72.80 566.38,70.19 566.89,67.58 567.40,64.99 567.90,62.41 568.41,59.87 568.92,57.37 569.43,54.93 569.94,52.56 570.44,50.27 570.95,48.09 571.46,46.01 571.97,44.06 572.48,42.25 572.98,40.59 573.49,39.10 574.00,37.79 574.51,36.67 575.03,35.75 575.54,35.03 576.06,34.53 576.57,34.24 577.08,34.17 577.60,34.33 578.11,34.70 578.63,35.29 579.14,36.09 579.65,37.09 580.17,38.29 580.68,39.67 581.20,41.22 581.71,42.93 582.22,44.78 582.74,46.77 583.25,48.88 583.77,51.09 584.28,53.39 584.79,55.76 585.31,58.20 585.82,60.70 586.34,63.23 586.85,65.79 587.36,68.36 587.88,70.95 588.39,73.54 588.91,76.12 589.42,78.69 589.93,81.23 590.45,83.76 590.96,86.27 591.48,88.76 591.99,91.22 592.50,93.64 593.02,96.04 593.53,98.39 594.05,100.70 594.56,102.97 595.07,105.18 595.59,107.35 596.10,109.47 596.62,111.54 597.13,113.55 597.64,115.50 598.16,117.40 598.67,119.25 599.19,121.03 599.70,122.76 600.21,124.43 600.73,126.04 601.24,127.60 601.76,129.10 602.27,130.54 602.78,131.92 603.30,133.25 603.81,134.53 604.33,135.75 604.84,136.91 605.35,138.03 605.87,139.10 606.38,140.14 606.90,141.13 607.41,142.09 607.92,143.02 608.44,143.91 608.95,144.78 609.47,145.61 609.98,146.41 610.49,147.19 611.01,147.94 611.52,148.66 612.04,149.36 612.55,150.04 613.06,150.69 613.58,151.33 614.09,151.94 614.61,152.53 615.12,153.11 615.63,153.66 616.15,154.20 616.66,154.72 617.18,155.23 617.69,155.72 618.20,156.20 618.72,156.66 619.23,157.11 619.75,157.55 620.26,157.97 620.77,158.38 621.29,158.79 621.80,159.18 622.32,159.56 622.83,159.93 623.34,160.29 623.86,160.64 624.37,160.98 624.89,161.31 625.40,161.64 625.90,161.96 626.40,162.27 626.90,162.57 627.40,162.87 627.90,163.16 628.41,163.44 628.91,163.72 629.41,163.99 629.91,164.25 630.41,164.50 630.91,164.75 631.41,164.99 631.91,165.23 632.41,165.46 632.91,165.69 633.42,165.91 633.92,166.12 634.42,166.33 634.92,166.54 635.42,166.73 635.92,166.93 636.42,167.12 636.92,167.31 637.42,167.49 637.92,167.67 638.43,167.84 638.93,168.01 639.43,168.18 639.93,168.34 640.43,168.50 640.93,168.65 641.43,168.81 641.93,168.95 642.43,169.10 642.93,169.24 643.44,169.38 643.94,169.52 644.44,169.66 644.94,169.79 645.44,169.92 645.94,170.04 646.44,170.17 646.94,170.29 647.44,170.41 647.94,170.53 648.45,170.64 648.95,170.76 649.45,170.87 649.95,170.98 650.45,171.09 650.95,171.19 651.45,171.29 651.95,171.40 652.45,171.50 652.96,171.60 653.46,171.69 653.96,171.79 654.46,171.88 654.96,171.97 655.46,172.06 655.96,172.15 656.46,172.24 656.96,172.33 657.46,172.41 657.97,172.50 658.47,172.58 658.97,172.66 659.47,172.74 659.97,172.82 660.47,172.90 660.97,172.98 661.47,173.05 661.97,173.13 662.47,173.20 662.98,173.27 663.48,173.35 663.98,173.42 664.48,173.49 664.98,173.56 665.48,173.62 665.98,173.69 666.48,173.76 666.98,173.82 667.48,173.89 667.99,173.95 668.49,174.02 668.99,174.08 669.49,174.14 669.99,174.20 670.49,174.26 670.99,174.32 671.49,174.38 671.99,174.44 672.49,174.50 673.00,174.56 673.50,174.61 674.00,174.67 674.50,174.73 675.00,174.78 675.50,174.84 676.02,174.89 676.53,174.94 677.05,175.00 677.56,175.05 678.08,175.10 678.59,175.15 679.11,175.20 679.62,175.26 680.14,175.31 680.65,175.35 681.17,175.40 681.68,175.45 682.20,175.50 682.71,175.54 683.23,175.59 683.74,175.63 684.26,175.68 684.77,175.72 685.29,175.77 685.80,175.81 686.32,175.85 686.83,175.89 687.35,175.93 687.86,175.97 688.38,176.01 688.89,176.05 689.41,176.09 689.92,176.13 690.44,176.17 690.95,176.21 691.47,176.24 691.98,176.28 692.50,176.32 693.01,176.35 693.53,176.39 694.04,176.42 694.56,176.46 695.07,176.49 695.59,176.52 696.10,176.56 696.62,176.59 697.13,176.62 697.65,176.65 698.16,176.68 698.68,176.71 699.19,176.75 699.71,176.78 700.22,176.81 700.74,176.84 701.25,176.86 701.77,176.89 702.28,176.92 702.80,176.95 703.31,176.98 703.83,177.01 704.34,177.03 704.86,177.06 705.37,177.09 705.89,177.11 706.40,177.14 706.92,177.16 707.43,177.19 707.95,177.22 708.46,177.24 708.98,177.26 709.49,177.29 710.01,177.31 710.52,177.34 711.04,177.36 711.55,177.38 712.07,177.41 712.58,177.43 713.10,177.45 713.61,177.47 714.12,177.50 714.64,177.52 715.16,177.54 715.67,177.56 716.19,177.58 716.70,177.60 717.22,177.62 717.73,177.64 718.25,177.66 718.76,177.68 719.28,177.70 719.79,177.72 720.31,177.74 720.82,177.76 721.34,177.78 721.85,177.80 722.37,177.82 722.88,177.84 723.40,177.85 723.91,177.87 724.43,177.89 724.94,177.91 725.46,177.93 725.97,177.94 726.48,177.96 727.00,177.98" fill="none" stroke="#0000ff" stroke-width="2.4"  stroke-linejoin="round" clip-path="url(#clip-b)"/>
<polyline points="420.60,180.16 421.11,180.16 421.62,180.15 422.13,180.15 422.64,180.14 423.15,180.14 423.66,180.13 424.17,180.13 424.68,180.12 425.19,180.12 425.70,180.11 426.21,180.10 426.72,180.10 427.23,180.09 427.74,180.09 428.25,180.08 428.76,180.08 429.27,180.07 429.78,180.06 430.29,180.06 430.80,180.05 431.31,180.04 431.82,180.04 432.33,180.03 432.84,180.03 433.35,180.02 433.86,180.01 434.37,180.01 434.88,180.00 435.39,179.99 435.90,179.99 436.41,179.98 436.92,179.97 437.43,179.96 437.94,179.96 438.45,179.95 438.96,179.94 439.47,179.93 439.98,179.93 440.49,179.92 441.00,179.91 441.51,179.90 442.02,179.90 442.53,179.89 443.04,179.88 443.55,179.87 444.06,179.86 444.57,179.86 445.08,179.85 445.59,179.84 446.10,179.83 446.61,179.82 447.12,179.81 447.63,179.80 448.14,179.79 448.65,179.79 449.16,179.78 449.67,179.77 450.18,179.76 450.69,179.75 451.20,179.74 451.71,179.73 452.22,179.72 452.73,179.71 453.24,179.70 453.75,179.69 454.26,179.68 454.77,179.67 455.28,179.66 455.79,179.65 456.30,179.63 456.81,179.62 457.32,179.61 457.83,179.60 458.34,179.59 458.85,179.58 459.36,179.57 459.87,179.55 460.38,179.54 460.89,179.53 461.40,179.52 461.91,179.50 462.42,179.49 462.93,179.48 463.44,179.46 463.95,179.45 464.46,179.44 464.97,179.42 465.48,179.41 465.99,179.40 466.50,179.38 467.01,179.37 467.52,179.35 468.03,179.34 468.54,179.32 469.05,179.31 469.56,179.29 470.07,179.28 470.58,179.26 471.09,179.24 471.60,179.23 472.12,179.21 472.63,179.19 473.15,179.18 473.66,179.16 474.18,179.14 474.70,179.12 475.21,179.10 475.73,179.08 476.24,179.06 476.76,179.04 477.28,179.02 477.79,179.00 478.31,178.98 478.82,178.96 479.34,178.94 479.86,178.91 480.37,178.89 480.89,178.87 481.40,178.84 481.92,178.82 482.44,178.79 482.95,178.76 483.47,178.74 483.98,178.71 484.50,178.68 485.02,178.65 485.53,178.63 486.05,178.60 486.56,178.57 487.08,178.54 487.60,178.50 488.11,178.47 488.63,178.44 489.14,178.41 489.66,178.37 490.18,178.34 490.69,178.30 491.21,178.27 491.72,178.23 492.24,178.19 492.76,178.15 493.27,178.11 493.79,178.07 494.30,178.03 494.82,177.99 495.34,177.95 495.85,177.91 496.37,177.86 496.88,177.82 497.40,177.77 497.92,177.72 498.43,177.67 498.95,177.63 499.46,177.58 499.98,177.52 500.50,177.47 501.01,177.42 501.53,177.36 502.04,177.31 502.56,177.25 503.08,177.19 503.59,177.14 504.11,177.08 504.62,177.01 505.14,176.95 505.66,176.89 506.17,176.82 506.69,176.75 507.20,176.69 507.72,176.62 508.24,176.55 508.75,176.47 509.27,176.40 509.78,176.32 510.30,176.25 510.82,176.17 511.33,176.09 511.85,176.00 512.36,175.92 512.88,175.83 513.40,175.74 513.91,175.65 514.43,175.56 514.94,175.47 515.46,175.37 515.98,175.27 516.49,175.17 517.01,175.07 517.52,174.97 518.04,174.86 518.56,174.75 519.07,174.64 519.59,174.52 520.10,174.40 520.62,174.28 521.14,174.16 521.65,174.03 522.17,173.91 522.68,173.77 523.20,173.64 523.71,173.50 524.22,173.36 524.72,173.21 525.23,173.07 525.74,172.91 526.25,172.76 526.76,172.59 527.26,172.43 527.77,172.26 528.28,172.08 528.79,171.90 529.30,171.72 529.80,171.53 530.31,171.33 530.82,171.13 531.33,170.93 531.84,170.71 532.34,170.50 532.85,170.27 533.36,170.04 533.87,169.80 534.38,169.55 534.88,169.30 535.39,169.04 535.90,168.77 536.41,168.49 536.92,168.20 537.42,167.90 537.93,167.60 538.44,167.28 538.95,166.96 539.46,166.62 539.96,166.27 540.47,165.91 540.98,165.54 541.49,165.16 542.00,164.76 542.50,164.35 543.01,163.92 543.52,163.49 544.03,163.03 544.54,162.56 545.04,162.07 545.55,161.57 546.06,161.05 546.57,160.51 547.08,159.95 547.58,159.37 548.09,158.77 548.60,158.15 549.11,157.50 549.62,156.83 550.12,156.14 550.63,155.43 551.14,154.68 551.65,153.91 552.16,153.11 552.66,152.29 553.17,151.43 553.68,150.54 554.19,149.63 554.70,148.68 555.20,147.69 555.71,146.68 556.22,145.62 556.73,144.54 557.24,143.41 557.74,142.26 558.25,141.06 558.76,139.83 559.27,138.56 559.78,137.26 560.28,135.93 560.79,134.56 561.30,133.15 561.81,131.72 562.32,130.26 562.82,128.77 563.33,127.26 563.84,125.73 564.35,124.19 564.86,122.64 565.36,121.08 565.87,119.53 566.38,117.99 566.89,116.46 567.40,114.95 567.90,113.48 568.41,112.06 568.92,110.68 569.43,109.37 569.94,108.13 570.44,106.97 570.95,105.90 571.46,104.93 571.97,104.07 572.48,103.33 572.98,102.71 573.49,102.23 574.00,101.88 574.51,101.67 575.03,101.59 575.54,101.67 576.06,101.88 576.57,102.22 577.08,102.71 577.60,103.32 578.11,104.05 578.63,104.90 579.14,105.85 579.65,106.91 580.17,108.05 580.68,109.26 581.20,110.55 581.71,111.90 582.22,113.30 582.74,114.73 583.25,116.20 583.77,117.69 584.28,119.20 584.79,120.72 585.31,122.24 585.82,123.75 586.34,125.25 586.85,126.75 587.36,128.22 587.88,129.67 588.39,131.10 588.91,132.49 589.42,133.86 589.93,135.20 590.45,136.51 590.96,137.78 591.48,139.02 591.99,140.23 592.50,141.40 593.02,142.53 593.53,143.64 594.05,144.70 594.56,145.74 595.07,146.74 595.59,147.71 596.10,148.64 596.62,149.55 597.13,150.42 597.64,151.27 598.16,152.08 598.67,152.87 599.19,153.63 599.70,154.37 600.21,155.08 600.73,155.77 601.24,156.43 601.76,157.07 602.27,157.69 602.78,158.28 603.30,158.86 603.81,159.42 604.33,159.95 604.84,160.47 605.35,160.98 605.87,161.46 606.38,161.93 606.90,162.38 607.41,162.82 607.92,163.25 608.44,163.66 608.95,164.05 609.47,164.44 609.98,164.81 610.49,165.17 611.01,165.52 611.52,165.86 612.04,166.18 612.55,166.50 613.06,166.81 613.58,167.10 614.09,167.39 614.61,167.67 615.12,167.94 615.63,168.21 616.15,168.46 616.66,168.71 617.18,168.95 617.69,169.18 618.20,169.41 618.72,169.63 619.23,169.84 619.75,170.05 620.26,170.25 620.77,170.45 621.29,170.64 621.80,170.82 622.32,171.00 622.83,171.18 623.34,171.35 623.86,171.51 624.37,171.68 624.89,171.83 625.40,171.99 625.90,172.14 626.40,172.28 626.90,172.42 627.40,172.56 627.90,172.69 628.41,172.81 628.91,172.93 629.41,173.05 629.91,173.16 630.41,173.27 630.91,173.38 631.41,173.48 631.91,173.58 632.41,173.68 632.91,173.77 633.42,173.86 633.92,173.94 634.42,174.03 634.92,174.11 635.42,174.19 635.92,174.26 636.42,174.34 636.92,174.41 637.42,174.48 637.92,174.54 638.43,174.61 638.93,174.67 639.43,174.73 639.93,174.79 640.43,174.85 640.93,174.91 641.43,174.96 641.93,175.02 642.43,175.07 642.93,175.12 643.44,175.17 643.94,175.22 644.44,175.27 644.94,175.31 645.44,175.36 645.94,175.40 646.44,175.45 646.94,175.49 647.44,175.53 647.94,175.57 648.45,175.61 648.95,175.65 649.45,175.69 649.95,175.73 650.45,175.77 650.95,175.80 651.45,175.84 651.95,175.87 652.45,175.91 652.96,175.94 653.46,175.98 653.96,176.01 654.46,176.05 654.96,176.08 655.46,176.11 655.96,176.15 656.46,176.18 656.96,176.21 657.46,176.24 657.97,176.27 658.47,176.30 658.97,176.34 659.47,176.37 659.97,176.40 660.47,176.43 660.97,176.46 661.47,176.49 661.97,176.52 662.47,176.55 662.98,176.58 663.48,176.61 663.98,176.64 664.48,176.67 664.98,176.70 665.48,176.73 665.98,176.77 666.48,176.80 666.98,176.83 667.48,176.86 667.99,176.89 668.49,176.92 668.99,176.95 669.49,176.98 669.99,177.01 670.49,177.04 670.99,177.08 671.49,177.11 671.99,177.14 672.49,177.17 673.00,177.20 673.50,177.24 674.00,177.27 674.50,177.30 675.00,177.33 675.50,177.37 676.02,177.40 676.53,177.43 677.05,177.47 677.56,177.50 678.08,177.53 678.59,177.56 679.11,177.60 679.62,177.63 680.14,177.66 680.65,177.69 681.17,177.72 681.68,177.75 682.20,177.78 682.71,177.81 683.23,177.83 683.74,177.86 684.26,177.89 684.77,177.92 685.29,177.94 685.80,177.97 686.32,178.00 686.83,178.02 687.35,178.05 687.86,178.08 688.38,178.10 688.89,178.13 689.41,178.15 689.92,178.18 690.44,178.20 690.95,178.23 691.47,178.25 691.98,178.27 692.50,178.30 693.01,178.32 693.53,178.34 694.04,178.37 694.56,178.39 695.07,178.41 695.59,178.43 696.10,178.45 696.62,178.48 697.13,178.50 697.65,178.52 698.16,178.54 698.68,178.56 699.19,178.58 699.71,178.60 700.22,178.62 700.74,178.64 701.25,178.66 701.77,178.68 702.28,178.70 702.80,178.72 703.31,178.74 703.83,178.76 704.34,178.78 704.86,178.80 705.37,178.82 705.89,178.84 706.40,178.86 706.92,178.88 707.43,178.89 707.95,178.91 708.46,178.93 708.98,178.95 709.49,178.97 710.01,178.99 710.52,179.00 711.04,179.02 711.55,179.04 712.07,179.06 712.58,179.07 713.10,179.09 713.61,179.11 714.12,179.12 714.64,179.14 715.16,179.16 715.67,179.18 716.19,179.19 716.70,179.21 717.22,179.23 717.73,179.24 718.25,179.26 718.76,179.27 719.28,179.29 719.79,179.31 720.31,179.32 720.82,179.34 721.34,179.35 721.85,179.37 722.37,179.39 722.88,179.40 723.40,179.42 723.91,179.43 724.43,179.45 724.94,179.46 725.46,179.48 725.97,179.49 726.48,179.51 727.00,179.52" fill="none" stroke="#007f00" stroke-width="2.4" stroke-dasharray="6.3 2.8 2.4 2.7" stroke-linejoin="round" clip-path="url(#clip-b)"/>
<polyline points="420.60,179.28 421.11,179.27 421.62,179.26 422.13,179.25 422.64,179.24 423.15,179.23 423.66,179.22 424.17,179.21 424.68,179.20 425.19,179.19 425.70,179.18 426.21,179.17 426.72,179.16 427.23,179.15 427.74,179.14 428.25,179.13 428.76,179.12 429.27,179.11 429.78,179.10 430.29,179.08 430.80,179.07 431.31,179.06 431.82,179.05 432.33,179.04 432.84,179.02 433.35,179.01 433.86,179.00 434.37,178.99 434.88,178.97 435.39,178.96 435.90,178.95 436.41,178.94 436.92,178.92 437.43,178.91 437.94,178.90 438.45,178.88 438.96,178.87 439.47,178.86 439.98,178.84 440.49,178.83 441.00,178.81 441.51,178.80 442.02,178.78 442.53,178.77 443.04,178.75 443.55,178.74 444.06,178.72 444.57,178.71 445.08,178.69 445.59,178.68 446.10,178.66 446.61,178.64 447.12,178.63 447.63,178.61 448.14,178.59 448.65,178.58 449.16,178.56 449.67,178.54 450.18,178.52 450.69,178.51 451.20,178.49 451.71,178.47 452.22,178.45 452.73,178.43 453.24,178.41 453.75,178.40 454.26,178.38 454.77,178.36 455.28,178.34 455.79,178.32 456.30,178.30 456.81,178.28 457.32,178.25 457.83,178.23 458.34,178.21 458.85,178.19 459.36,178.17 459.87,178.15 460.38,178.12 460.89,178.10 461.40,178.08 461.91,178.05 462.42,178.03 462.93,178.01 463.44,177.98 463.95,177.96 464.46,177.93 464.97,177.91 465.48,177.88 465.99,177.86 466.50,177.83 467.01,177.80 467.52,177.78 468.03,177.75 468.54,177.72 469.05,177.69 469.56,177.66 470.07,177.63 470.58,177.61 471.09,177.58 471.60,177.55 472.12,177.51 472.63,177.48 473.15,177.45 473.66,177.42 474.18,177.39 474.70,177.36 475.21,177.32 475.73,177.29 476.24,177.25 476.76,177.22 477.28,177.18 477.79,177.15 478.31,177.11 478.82,177.07 479.34,177.04 479.86,177.00 480.37,176.96 480.89,176.92 481.40,176.88 481.92,176.84 482.44,176.80 482.95,176.76 483.47,176.71 483.98,176.67 484.50,176.63 485.02,176.58 485.53,176.54 486.05,176.49 486.56,176.45 487.08,176.40 487.60,176.35 488.11,176.30 488.63,176.25 489.14,176.20 489.66,176.15 490.18,176.10 490.69,176.04 491.21,175.99 491.72,175.93 492.24,175.88 492.76,175.82 493.27,175.76 493.79,175.70 494.30,175.64 494.82,175.58 495.34,175.52 495.85,175.46 496.37,175.39 496.88,175.33 497.40,175.26 497.92,175.19 498.43,175.12 498.95,175.05 499.46,174.98 499.98,174.91 500.50,174.83 501.01,174.76 501.53,174.68 502.04,174.60 502.56,174.52 503.08,174.44 503.59,174.36 504.11,174.27 504.62,174.18 505.14,174.10 505.66,174.01 506.17,173.91 506.69,173.82 507.20,173.72 507.72,173.63 508.24,173.53 508.75,173.42 509.27,173.32 509.78,173.21 510.30,173.11 510.82,172.99 511.33,172.88 511.85,172.77 512.36,172.65 512.88,172.53 513.40,172.40 513.91,172.28 514.43,172.15 514.94,172.02 515.46,171.88 515.98,171.75 516.49,171.60 517.01,171.46 517.52,171.31 518.04,171.16 518.56,171.01 519.07,170.85 519.59,170.69 520.10,170.52 520.62,170.35 521.14,170.18 521.65,170.00 522.17,169.82 522.68,169.63 523.20,169.44 523.71,169.24 524.22,169.04 524.72,168.84 525.23,168.62 525.74,168.41 526.25,168.18 526.76,167.95 527.26,167.72 527.77,167.48 528.28,167.24 528.79,167.00 529.30,166.75 529.80,166.49 530.31,166.23 530.82,165.96 531.33,165.69 531.84,165.41 532.34,165.13 532.85,164.83 533.36,164.54 533.87,164.23 534.38,163.92 534.88,163.59 535.39,163.26 535.90,162.93 536.41,162.58 536.92,162.22 537.42,161.85 537.93,161.47 538.44,161.08 538.95,160.68 539.46,160.27 539.96,159.84 540.47,159.40 540.98,158.94 541.49,158.47 542.00,157.99 542.50,157.48 543.01,156.96 543.52,156.42 544.03,155.86 544.54,155.28 545.04,154.68 545.55,154.06 546.06,153.41 546.57,152.74 547.08,152.05 547.58,151.32 548.09,150.57 548.60,149.78 549.11,148.97 549.62,148.12 550.12,147.24 550.63,146.32 551.14,145.36 551.65,144.36 552.16,143.32 552.66,142.23 553.17,141.10 553.68,139.92 554.19,138.68 554.70,137.38 555.20,136.02 555.71,134.60 556.22,133.11 556.73,131.56 557.24,129.95 557.74,128.27 558.25,126.52 558.76,124.71 559.27,122.83 559.78,120.89 560.28,118.88 560.79,116.81 561.30,114.68 561.81,112.49 562.32,110.25 562.82,107.95 563.33,105.60 563.84,103.20 564.35,100.76 564.86,98.28 565.36,95.77 565.87,93.24 566.38,90.68 566.89,88.12 567.40,85.55 567.90,82.98 568.41,80.40 568.92,77.85 569.43,75.32 569.94,72.84 570.44,70.41 570.95,68.05 571.46,65.79 571.97,63.63 572.48,61.60 572.98,59.71 573.49,57.98 574.00,56.43 574.51,55.06 575.03,53.90 575.54,52.96 576.06,52.24 576.57,51.76 577.08,51.51 577.60,51.51 578.11,51.76 578.63,52.24 579.14,52.96 579.65,53.90 580.17,55.06 580.68,56.43 581.20,57.98 581.71,59.71 582.22,61.60 582.74,63.63 583.25,65.79 583.77,68.05 584.28,70.41 584.79,72.84 585.31,75.32 585.82,77.85 586.34,80.40 586.85,82.98 587.36,85.55 587.88,88.12 588.39,90.68 588.91,93.24 589.42,95.77 589.93,98.28 590.45,100.76 590.96,103.20 591.48,105.60 591.99,107.95 592.50,110.25 593.02,112.49 593.53,114.68 594.05,116.81 594.56,118.88 595.07,120.89 595.59,122.83 596.10,124.71 596.62,126.52 597.13,128.27 597.64,129.95 598.16,131.56 598.67,133.11 599.19,134.60 599.70,136.02 600.21,137.38 600.73,138.68 601.24,139.92 601.76,141.10 602.27,142.23 602.78,143.32 603.30,144.36 603.81,145.37 604.33,146.33 604.84,147.25 605.35,148.14 605.87,149.00 606.38,149.82 606.90,150.61 607.41,151.36 607.92,152.09 608.44,152.80 608.95,153.47 609.47,154.12 609.98,154.75 610.49,155.36 611.01,155.94 611.52,156.50 612.04,157.04 612.55,157.56 613.06,158.07 613.58,158.56 614.09,159.03 614.61,159.48 615.12,159.92 615.63,160.35 616.15,160.76 616.66,161.16 617.18,161.54 617.69,161.92 618.20,162.28 618.72,162.63 619.23,162.97 619.75,163.31 620.26,163.63 620.77,163.94 621.29,164.24 621.80,164.54 622.32,164.83 622.83,165.11 623.34,165.38 623.86,165.64 624.37,165.90 624.89,166.15 625.40,166.40 625.90,166.64 626.40,166.87 626.90,167.10 627.40,167.32 627.90,167.54 628.41,167.76 628.91,167.96 629.41,168.17 629.91,168.36 630.41,168.56 630.91,168.74 631.41,168.92 631.91,169.10 632.41,169.27 632.91,169.44 633.42,169.60 633.92,169.76 634.42,169.92 634.92,170.07 635.42,170.22 635.92,170.36 636.42,170.50 636.92,170.64 637.42,170.77 637.92,170.90 638.43,171.03 638.93,171.16 639.43,171.28 639.93,171.40 640.43,171.51 640.93,171.63 641.43,171.74 641.93,171.85 642.43,171.96 642.93,172.06 643.44,172.16 643.94,172.26 644.44,172.36 644.94,172.46 645.44,172.55 645.94,172.64 646.44,172.73 646.94,172.82 647.44,172.91 647.94,173.00 648.45,173.08 648.95,173.16 649.45,173.24 649.95,173.32 650.45,173.40 650.95,173.48 651.45,173.55 651.95,173.63 652.45,173.70 652.96,173.77 653.46,173.84 653.96,173.91 654.46,173.98 654.96,174.05 655.46,174.12 655.96,174.18 656.46,174.25 656.96,174.31 657.46,174.37 657.97,174.44 658.47,174.50 658.97,174.56 659.47,174.62 659.97,174.68 660.47,174.73 660.97,174.79 661.47,174.85 661.97,174.90 662.47,174.96 662.98,175.01 663.48,175.07 663.98,175.12 664.48,175.17 664.98,175.22 665.48,175.28 665.98,175.33 666.48,175.38 666.98,175.43 667.48,175.48 667.99,175.53 668.49,175.57 668.99,175.62 669.49,175.67 669.99,175.72 670.49,175.76 670.99,175.81 671.49,175.86 671.99,175.90 672.49,175.95 673.00,175.99 673.50,176.04 674.00,176.08 674.50,176.13 675.00,176.17 675.50,176.21 676.02,176.26 676.53,176.30 677.05,176.34 677.56,176.38 678.08,176.42 678.59,176.47 679.11,176.51 679.62,176.55 680.14,176.59 680.65,176.63 681.17,176.67 681.68,176.71 682.20,176.74 682.71,176.78 683.23,176.82 683.74,176.85 684.26,176.89 684.77,176.93 685.29,176.96 685.80,177.00 686.32,177.03 686.83,177.06 687.35,177.10 687.86,177.13 688.38,177.16 688.89,177.19 689.41,177.23 689.92,177.26 690.44,177.29 690.95,177.32 691.47,177.35 691.98,177.38 692.50,177.41 693.01,177.44 693.53,177.47 694.04,177.49 694.56,177.52 695.07,177.55 695.59,177.58 696.10,177.60 696.62,177.63 697.13,177.66 697.65,177.68 698.16,177.71 698.68,177.74 699.19,177.76 699.71,177.79 700.22,177.81 700.74,177.84 701.25,177.86 701.77,177.88 702.28,177.91 702.80,177.93 703.31,177.95 703.83,177.98 704.34,178.00 704.86,178.02 705.37,178.05 705.89,178.07 706.40,178.09 706.92,178.11 707.43,178.13 707.95,178.15 708.46,178.18 708.98,178.20 709.49,178.22 710.01,178.24 710.52,178.26 711.04,178.28 711.55,178.30 712.07,178.32 712.58,178.34 713.10,178.36 713.61,178.38 714.12,178.40 714.64,178.42 715.16,178.43 715.67,178.45 716.19,178.47 716.70,178.49 717.22,178.51 717.73,178.53 718.25,178.54 718.76,178.56 719.28,178.58 719.79,178.60 720.31,178.61 720.82,178.63 721.34,178.65 721.85,178.67 722.37,178.68 722.88,178.70 723.40,178.72 723.91,178.73 724.43,178.75 724.94,178.77 725.46,178.78 725.97,178.80 726.48,178.81 727.00,178.83" fill="none" stroke="#ff0000" stroke-width="2.4" stroke-dasharray="6.4 2.7" stroke-linejoin="round" clip-path="url(#clip-b)"/>
<text class="tk" x="420.0" y="197.0" text-anchor="middle">0.7</text>
<text class="tk" x="471.0" y="197.0" text-anchor="middle">0.8</text>
<text class="tk" x="522.6" y="197.0" text-anchor="middle">0.9</text>
<text class="tk" x="573.4" y="197.0" text-anchor="middle">1</text>
<text class="tk" x="624.8" y="197.0" text-anchor="middle">1.1</text>
<text class="tk" x="674.9" y="197.0" text-anchor="middle">1.2</text>
<text class="tk" x="416.1" y="186.5" text-anchor="end">0</text>
<text class="tk" x="416.1" y="143.0" text-anchor="end">0.5</text>
<text class="tk" x="416.1" y="99.5" text-anchor="end">1</text>
<text class="tk" x="416.1" y="56.0" text-anchor="end">1.5</text>
<text class="tk" x="416.1" y="12.5" text-anchor="end">2</text>
<text class="lb" x="505.6" y="214.1" textLength="135" lengthAdjust="spacingAndGlyphs">Normalized frequency</text>
<text class="yl" transform="translate(388.1,157.6) rotate(-90)" textLength="124.7" lengthAdjust="spacingAndGlyphs">Normalized power</text>
<text class="cp" x="547.9" y="239.6" text-anchor="middle">(b)</text>
<path d="M542.2 243.9 l1.4 -2.2 l1.4 2.2 l1.4 -2.2 l1.4 2.2 l1.4 -2.2 l1.4 2.2 l1.4 -2.2 l1.0 1.6" fill="none" stroke="#2fa52f" stroke-width="1.1" stroke-linejoin="round"/>
<rect x="622.7" y="9.1" width="101.80" height="68.20" fill="#fff"/>
<rect x="623.7" y="9.6" width="99.80" height="66.70" fill="#fff" stroke="#000" stroke-width="1.1"/>
<line x1="629.0" y1="21.9" x2="653.5" y2="21.9" stroke="#0000ff" stroke-width="2.2" />
<text class="lg" x="656.1" y="27.7" textLength="52.3" lengthAdjust="spacingAndGlyphs">Hybrid</text>
<line x1="629.0" y1="43.1" x2="653.5" y2="43.1" stroke="#007f00" stroke-width="2.2" stroke-dasharray="7.5 3 2.3 2.7"/>
<text class="lg" x="656.1" y="50.1" textLength="62.6" lengthAdjust="spacingAndGlyphs">EM only</text>
<line x1="629.0" y1="64.4" x2="653.5" y2="64.4" stroke="#ff0000" stroke-width="2.2" stroke-dasharray="6.8 2.5"/>
<text class="lg" x="656.1" y="70.7" textLength="57.4" lengthAdjust="spacingAndGlyphs">PE only</text>
</g>
<g id="panel-c">
<path d="M284.00 429.00V256.20M335.60 429.00V256.20M387.00 429.00V256.20M437.40 429.00V256.20M487.70 429.00V256.20M233.60 371.40H539.20M233.60 313.80H539.20" stroke="#000" stroke-width="1.6" stroke-dasharray="3.9 3.15" fill="none"/>
<rect x="233.6" y="256.2" width="305.60" height="172.80" fill="none" stroke="#000" stroke-width="1.25"/>
<clipPath id="clip-c"><rect x="233.6" y="256.2" width="305.6" height="172.8"/></clipPath>
<polyline points="233.60,411.02 234.10,410.96 234.61,410.91 235.11,410.86 235.62,410.81 236.12,410.75 236.62,410.70 237.13,410.65 237.63,410.59 238.14,410.54 238.64,410.49 239.14,410.43 239.65,410.38 240.15,410.32 240.66,410.26 241.16,410.21 241.66,410.15 242.17,410.09 242.67,410.04 243.18,409.98 243.68,409.92 244.18,409.86 244.69,409.80 245.19,409.74 245.70,409.68 246.20,409.62 246.70,409.56 247.21,409.50 247.71,409.43 248.22,409.37 248.72,409.31 249.22,409.25 249.73,409.18 250.23,409.12 250.74,409.05 251.24,408.99 251.74,408.92 252.25,408.85 252.75,408.79 253.26,408.72 253.76,408.65 254.26,408.58 254.77,408.51 255.27,408.44 255.78,408.37 256.28,408.30 256.78,408.23 257.29,408.16 257.79,408.08 258.30,408.01 258.80,407.94 259.30,407.86 259.81,407.79 260.31,407.71 260.82,407.63 261.32,407.56 261.82,407.48 262.33,407.40 262.83,407.32 263.34,407.24 263.84,407.16 264.34,407.08 264.85,407.00 265.35,406.92 265.86,406.83 266.36,406.75 266.86,406.67 267.37,406.58 267.87,406.49 268.38,406.41 268.88,406.32 269.38,406.23 269.89,406.14 270.39,406.05 270.90,405.96 271.40,405.87 271.90,405.78 272.41,405.69 272.91,405.59 273.42,405.50 273.92,405.40 274.42,405.31 274.93,405.21 275.43,405.11 275.94,405.01 276.44,404.91 276.94,404.81 277.45,404.71 277.95,404.61 278.46,404.50 278.96,404.40 279.46,404.29 279.97,404.18 280.47,404.08 280.98,403.97 281.48,403.86 281.98,403.75 282.49,403.64 282.99,403.52 283.50,403.41 284.00,403.29 284.52,403.18 285.03,403.06 285.55,402.94 286.06,402.82 286.58,402.70 287.10,402.58 287.61,402.45 288.13,402.33 288.64,402.20 289.16,402.07 289.68,401.94 290.19,401.81 290.71,401.68 291.22,401.55 291.74,401.41 292.26,401.28 292.77,401.14 293.29,401.00 293.80,400.86 294.32,400.72 294.84,400.58 295.35,400.43 295.87,400.28 296.38,400.14 296.90,399.99 297.42,399.84 297.93,399.68 298.45,399.53 298.96,399.37 299.48,399.22 300.00,399.06 300.51,398.89 301.03,398.73 301.54,398.57 302.06,398.40 302.58,398.23 303.09,398.06 303.61,397.89 304.12,397.72 304.64,397.54 305.16,397.36 305.67,397.18 306.19,397.00 306.70,396.82 307.22,396.63 307.74,396.44 308.25,396.25 308.77,396.06 309.28,395.87 309.80,395.67 310.32,395.47 310.83,395.27 311.35,395.07 311.86,394.86 312.38,394.65 312.90,394.44 313.41,394.23 313.93,394.01 314.44,393.79 314.96,393.57 315.48,393.34 315.99,393.12 316.51,392.89 317.02,392.65 317.54,392.42 318.06,392.18 318.57,391.93 319.09,391.69 319.60,391.44 320.12,391.19 320.64,390.93 321.15,390.67 321.67,390.41 322.18,390.14 322.70,389.87 323.22,389.60 323.73,389.32 324.25,389.04 324.76,388.76 325.28,388.47 325.80,388.17 326.31,387.88 326.83,387.57 327.34,387.27 327.86,386.96 328.38,386.64 328.89,386.32 329.41,386.00 329.92,385.67 330.44,385.33 330.96,385.00 331.47,384.65 331.99,384.30 332.50,383.95 333.02,383.59 333.54,383.22 334.05,382.85 334.57,382.47 335.08,382.09 335.60,381.70 336.11,381.30 336.63,380.90 337.14,380.49 337.66,380.08 338.17,379.66 338.68,379.23 339.20,378.80 339.71,378.36 340.23,377.91 340.74,377.45 341.25,376.99 341.77,376.52 342.28,376.04 342.80,375.56 343.31,375.06 343.82,374.56 344.34,374.05 344.85,373.53 345.37,373.00 345.88,372.46 346.39,371.91 346.91,371.35 347.42,370.77 347.94,370.19 348.45,369.60 348.96,368.99 349.48,368.37 349.99,367.74 350.51,367.10 351.02,366.44 351.53,365.77 352.05,365.09 352.56,364.39 353.08,363.68 353.59,362.95 354.10,362.21 354.62,361.45 355.13,360.68 355.65,359.89 356.16,359.08 356.67,358.25 357.19,357.41 357.70,356.55 358.22,355.66 358.73,354.76 359.24,353.84 359.76,352.90 360.27,351.94 360.79,350.96 361.30,349.95 361.81,348.93 362.33,347.87 362.84,346.78 363.36,345.64 363.87,344.46 364.38,343.25 364.90,342.00 365.41,340.71 365.93,339.39 366.44,338.04 366.95,336.66 367.47,335.26 367.98,333.83 368.50,332.37 369.01,330.81 369.52,329.17 370.04,327.47 370.55,325.75 371.07,324.02 371.58,322.31 372.09,320.65 372.61,319.04 373.12,317.51 373.64,316.04 374.15,314.58 374.66,313.13 375.18,311.69 375.69,310.25 376.21,308.83 376.72,307.43 377.23,306.04 377.75,304.67 378.26,303.34 378.78,302.03 379.29,300.75 379.80,299.51 380.32,298.31 380.83,297.15 381.35,296.04 381.86,294.98 382.37,293.98 382.89,293.04 383.40,292.17 383.92,291.36 384.43,290.62 384.94,289.96 385.46,289.37 385.97,288.87 386.49,288.44 387.00,288.10 387.50,287.85 388.01,287.68 388.51,287.60 389.02,287.61 389.52,287.71 390.02,287.89 390.53,288.16 391.03,288.52 391.54,288.96 392.04,289.48 392.54,290.09 393.05,290.76 393.55,291.52 394.06,292.34 394.56,293.23 395.06,294.18 395.57,295.19 396.07,296.26 396.58,297.38 397.08,298.54 397.58,299.75 398.09,301.00 398.59,302.28 399.10,303.60 399.60,304.95 400.10,306.32 400.61,307.71 401.11,309.12 401.62,310.54 402.12,311.98 402.62,313.42 403.13,314.88 403.63,316.33 404.14,317.81 404.64,319.36 405.14,320.98 405.65,322.65 406.15,324.36 406.66,326.09 407.16,327.81 407.66,329.50 408.17,331.13 408.67,332.67 409.18,334.12 409.68,335.54 410.18,336.94 410.69,338.31 411.19,339.65 411.70,340.97 412.20,342.25 412.70,343.49 413.21,344.70 413.71,345.87 414.22,347.00 414.72,348.09 415.22,349.13 415.73,350.16 416.23,351.16 416.74,352.14 417.24,353.10 417.74,354.03 418.25,354.95 418.75,355.85 419.26,356.74 419.76,357.60 420.26,358.44 420.77,359.27 421.27,360.08 421.78,360.87 422.28,361.65 422.78,362.41 423.29,363.16 423.79,363.89 424.30,364.61 424.80,365.31 425.30,366.00 425.81,366.67 426.31,367.33 426.82,367.98 427.32,368.62 427.82,369.24 428.33,369.86 428.83,370.46 429.34,371.05 429.84,371.63 430.34,372.20 430.85,372.76 431.35,373.31 431.86,373.85 432.36,374.39 432.86,374.91 433.37,375.42 433.87,375.93 434.38,376.43 434.88,376.92 435.38,377.40 435.89,377.88 436.39,378.34 436.90,378.80 437.40,379.26 437.90,379.71 438.41,380.15 438.91,380.58 439.41,381.01 439.91,381.43 440.42,381.84 440.92,382.25 441.42,382.65 441.93,383.05 442.43,383.44 442.93,383.83 443.44,384.21 443.94,384.58 444.44,384.95 444.94,385.31 445.45,385.67 445.95,386.02 446.45,386.37 446.96,386.72 447.46,387.06 447.96,387.39 448.47,387.72 448.97,388.04 449.47,388.37 449.97,388.68 450.48,388.99 450.98,389.30 451.48,389.61 451.99,389.91 452.49,390.20 452.99,390.49 453.50,390.78 454.00,391.07 454.50,391.35 455.00,391.63 455.51,391.90 456.01,392.17 456.51,392.44 457.02,392.70 457.52,392.96 458.02,393.22 458.53,393.47 459.03,393.73 459.53,393.97 460.03,394.22 460.54,394.46 461.04,394.70 461.54,394.93 462.05,395.17 462.55,395.40 463.05,395.63 463.56,395.85 464.06,396.07 464.56,396.29 465.06,396.51 465.57,396.72 466.07,396.94 466.57,397.14 467.08,397.35 467.58,397.56 468.08,397.76 468.59,397.96 469.09,398.16 469.59,398.35 470.10,398.54 470.60,398.73 471.10,398.92 471.60,399.11 472.11,399.29 472.61,399.47 473.11,399.65 473.62,399.83 474.12,400.01 474.62,400.18 475.12,400.35 475.63,400.52 476.13,400.69 476.63,400.86 477.14,401.02 477.64,401.19 478.14,401.35 478.65,401.50 479.15,401.66 479.65,401.82 480.16,401.97 480.66,402.12 481.16,402.27 481.66,402.42 482.17,402.57 482.67,402.71 483.17,402.86 483.68,403.00 484.18,403.14 484.68,403.28 485.19,403.41 485.69,403.55 486.19,403.68 486.69,403.82 487.20,403.95 487.70,404.08 488.22,404.20 488.73,404.33 489.25,404.46 489.76,404.58 490.28,404.70 490.79,404.83 491.31,404.95 491.82,405.07 492.34,405.19 492.85,405.30 493.37,405.42 493.88,405.53 494.40,405.65 494.91,405.76 495.43,405.87 495.94,405.99 496.46,406.10 496.97,406.20 497.49,406.31 498.00,406.42 498.52,406.53 499.03,406.63 499.55,406.74 500.06,406.84 500.58,406.94 501.09,407.04 501.61,407.14 502.12,407.24 502.64,407.34 503.15,407.44 503.67,407.54 504.18,407.63 504.70,407.73 505.21,407.82 505.73,407.92 506.24,408.01 506.76,408.10 507.27,408.19 507.79,408.29 508.30,408.38 508.82,408.46 509.33,408.55 509.85,408.64 510.36,408.73 510.88,408.81 511.39,408.90 511.91,408.99 512.42,409.07 512.94,409.15 513.45,409.24 513.97,409.32 514.48,409.40 515.00,409.48 515.51,409.56 516.03,409.64 516.54,409.72 517.06,409.80 517.57,409.88 518.09,409.95 518.60,410.03 519.12,410.10 519.63,410.18 520.15,410.26 520.66,410.33 521.18,410.40 521.69,410.48 522.21,410.55 522.72,410.62 523.24,410.69 523.75,410.76 524.27,410.83 524.78,410.90 525.30,410.97 525.81,411.04 526.33,411.11 526.84,411.18 527.36,411.24 527.87,411.31 528.39,411.38 528.90,411.44 529.42,411.51 529.93,411.57 530.45,411.64 530.96,411.70 531.48,411.76 531.99,411.83 532.51,411.89 533.02,411.95 533.54,412.01 534.05,412.07 534.57,412.13 535.08,412.19 535.60,412.25 536.11,412.31 536.63,412.37 537.14,412.43 537.66,412.49 538.17,412.55 538.68,412.60 539.20,412.66" fill="none" stroke="#0000ff" stroke-width="2.4"  stroke-linejoin="round" clip-path="url(#clip-c)"/>
<polyline points="233.60,422.88 234.10,422.86 234.61,422.84 235.11,422.82 235.62,422.80 236.12,422.78 236.62,422.76 237.13,422.73 237.63,422.71 238.14,422.69 238.64,422.67 239.14,422.65 239.65,422.62 240.15,422.60 240.66,422.58 241.16,422.55 241.66,422.53 242.17,422.50 242.67,422.48 243.18,422.46 243.68,422.43 244.18,422.41 244.69,422.38 245.19,422.36 245.70,422.33 246.20,422.30 246.70,422.28 247.21,422.25 247.71,422.22 248.22,422.20 248.72,422.17 249.22,422.14 249.73,422.11 250.23,422.09 250.74,422.06 251.24,422.03 251.74,422.00 252.25,421.97 252.75,421.94 253.26,421.91 253.76,421.88 254.26,421.85 254.77,421.82 255.27,421.79 255.78,421.76 256.28,421.73 256.78,421.69 257.29,421.66 257.79,421.63 258.30,421.60 258.80,421.56 259.30,421.53 259.81,421.50 260.31,421.46 260.82,421.43 261.32,421.39 261.82,421.36 262.33,421.32 262.83,421.29 263.34,421.25 263.84,421.21 264.34,421.18 264.85,421.14 265.35,421.10 265.86,421.06 266.36,421.02 266.86,420.98 267.37,420.95 267.87,420.91 268.38,420.87 268.88,420.82 269.38,420.78 269.89,420.74 270.39,420.70 270.90,420.66 271.40,420.62 271.90,420.57 272.41,420.53 272.91,420.49 273.42,420.44 273.92,420.40 274.42,420.35 274.93,420.30 275.43,420.26 275.94,420.21 276.44,420.16 276.94,420.12 277.45,420.07 277.95,420.02 278.46,419.97 278.96,419.92 279.46,419.87 279.97,419.82 280.47,419.77 280.98,419.72 281.48,419.66 281.98,419.61 282.49,419.56 282.99,419.50 283.50,419.45 284.00,419.39 284.52,419.34 285.03,419.28 285.55,419.22 286.06,419.15 286.58,419.09 287.10,419.02 287.61,418.95 288.13,418.88 288.64,418.80 289.16,418.73 289.68,418.65 290.19,418.57 290.71,418.49 291.22,418.40 291.74,418.32 292.26,418.23 292.77,418.14 293.29,418.05 293.80,417.96 294.32,417.87 294.84,417.77 295.35,417.68 295.87,417.58 296.38,417.48 296.90,417.39 297.42,417.29 297.93,417.19 298.45,417.08 298.96,416.98 299.48,416.88 300.00,416.78 300.51,416.67 301.03,416.57 301.54,416.46 302.06,416.36 302.58,416.25 303.09,416.15 303.61,416.04 304.12,415.94 304.64,415.83 305.16,415.73 305.67,415.62 306.19,415.52 306.70,415.42 307.22,415.31 307.74,415.21 308.25,415.11 308.77,415.01 309.28,414.91 309.80,414.82 310.32,414.72 310.83,414.62 311.35,414.52 311.86,414.42 312.38,414.32 312.90,414.22 313.41,414.11 313.93,414.01 314.44,413.90 314.96,413.80 315.48,413.69 315.99,413.58 316.51,413.47 317.02,413.36 317.54,413.24 318.06,413.13 318.57,413.01 319.09,412.89 319.60,412.77 320.12,412.65 320.64,412.53 321.15,412.40 321.67,412.27 322.18,412.14 322.70,412.01 323.22,411.88 323.73,411.75 324.25,411.61 324.76,411.47 325.28,411.33 325.80,411.19 326.31,411.04 326.83,410.90 327.34,410.75 327.86,410.59 328.38,410.44 328.89,410.28 329.41,410.12 329.92,409.96 330.44,409.79 330.96,409.62 331.47,409.45 331.99,409.28 332.50,409.10 333.02,408.92 333.54,408.73 334.05,408.54 334.57,408.35 335.08,408.16 335.60,407.96 336.11,407.76 336.63,407.55 337.14,407.33 337.66,407.12 338.17,406.89 338.68,406.66 339.20,406.43 339.71,406.19 340.23,405.94 340.74,405.69 341.25,405.44 341.77,405.18 342.28,404.91 342.80,404.64 343.31,404.36 343.82,404.08 344.34,403.79 344.85,403.49 345.37,403.19 345.88,402.89 346.39,402.58 346.91,402.26 347.42,401.94 347.94,401.61 348.45,401.27 348.96,400.93 349.48,400.58 349.99,400.23 350.51,399.87 351.02,399.51 351.53,399.14 352.05,398.76 352.56,398.38 353.08,397.99 353.59,397.59 354.10,397.19 354.62,396.78 355.13,396.36 355.65,395.94 356.16,395.50 356.67,395.06 357.19,394.61 357.70,394.15 358.22,393.68 358.73,393.20 359.24,392.71 359.76,392.21 360.27,391.70 360.79,391.18 361.30,390.65 361.81,390.10 362.33,389.55 362.84,388.98 363.36,388.40 363.87,387.81 364.38,387.21 364.90,386.59 365.41,385.96 365.93,385.31 366.44,384.66 366.95,383.98 367.47,383.30 367.98,382.60 368.50,381.89 369.01,381.17 369.52,380.46 370.04,379.75 370.55,379.04 371.07,378.33 371.58,377.62 372.09,376.90 372.61,376.18 373.12,375.46 373.64,374.72 374.15,373.98 374.66,373.23 375.18,372.47 375.69,371.71 376.21,370.93 376.72,370.16 377.23,369.41 377.75,368.68 378.26,367.97 378.78,367.26 379.29,366.55 379.80,365.83 380.32,365.11 380.83,364.38 381.35,363.65 381.86,362.91 382.37,362.17 382.89,361.44 383.40,360.78 383.92,360.16 384.43,359.60 384.94,359.11 385.46,358.73 385.97,358.52 386.49,358.52 387.00,358.73 387.50,359.11 388.01,359.60 388.51,360.16 389.02,360.78 389.52,361.45 390.02,362.17 390.53,362.91 391.03,363.65 391.54,364.39 392.04,365.13 392.54,365.86 393.05,366.58 393.55,367.29 394.06,368.00 394.56,368.70 395.06,369.41 395.57,370.13 396.07,370.86 396.58,371.59 397.08,372.32 397.58,373.03 398.09,373.73 398.59,374.42 399.10,375.11 399.60,375.78 400.10,376.45 400.61,377.11 401.11,377.77 401.62,378.43 402.12,379.08 402.62,379.73 403.13,380.38 403.63,381.04 404.14,381.69 404.64,382.34 405.14,382.99 405.65,383.62 406.15,384.25 406.66,384.87 407.16,385.48 407.66,386.07 408.17,386.66 408.67,387.23 409.18,387.79 409.68,388.34 410.18,388.87 410.69,389.38 411.19,389.88 411.70,390.36 412.20,390.83 412.70,391.29 413.21,391.73 413.71,392.15 414.22,392.57 414.72,392.97 415.22,393.36 415.73,393.75 416.23,394.12 416.74,394.48 417.24,394.84 417.74,395.19 418.25,395.54 418.75,395.87 419.26,396.21 419.76,396.53 420.26,396.86 420.77,397.18 421.27,397.49 421.78,397.81 422.28,398.12 422.78,398.43 423.29,398.74 423.79,399.05 424.30,399.36 424.80,399.67 425.30,399.98 425.81,400.29 426.31,400.60 426.82,400.90 427.32,401.20 427.82,401.50 428.33,401.79 428.83,402.08 429.34,402.36 429.84,402.64 430.34,402.92 430.85,403.19 431.35,403.46 431.86,403.72 432.36,403.98 432.86,404.23 433.37,404.48 433.87,404.73 434.38,404.97 434.88,405.20 435.38,405.43 435.89,405.66 436.39,405.88 436.90,406.09 437.40,406.30 437.90,406.51 438.41,406.71 438.91,406.90 439.41,407.10 439.91,407.29 440.42,407.47 440.92,407.66 441.42,407.84 441.93,408.01 442.43,408.19 442.93,408.36 443.44,408.53 443.94,408.70 444.44,408.86 444.94,409.02 445.45,409.18 445.95,409.34 446.45,409.49 446.96,409.65 447.46,409.80 447.96,409.94 448.47,410.09 448.97,410.23 449.47,410.37 449.97,410.51 450.48,410.65 450.98,410.79 451.48,410.92 451.99,411.05 452.49,411.18 452.99,411.31 453.50,411.44 454.00,411.56 454.50,411.68 455.00,411.80 455.51,411.92 456.01,412.04 456.51,412.16 457.02,412.27 457.52,412.39 458.02,412.50 458.53,412.61 459.03,412.72 459.53,412.83 460.03,412.93 460.54,413.04 461.04,413.14 461.54,413.24 462.05,413.34 462.55,413.44 463.05,413.54 463.56,413.64 464.06,413.73 464.56,413.83 465.06,413.92 465.57,414.01 466.07,414.11 466.57,414.20 467.08,414.29 467.58,414.37 468.08,414.46 468.59,414.55 469.09,414.63 469.59,414.72 470.10,414.80 470.60,414.88 471.10,414.96 471.60,415.04 472.11,415.12 472.61,415.20 473.11,415.28 473.62,415.36 474.12,415.43 474.62,415.51 475.12,415.58 475.63,415.65 476.13,415.73 476.63,415.80 477.14,415.87 477.64,415.94 478.14,416.01 478.65,416.08 479.15,416.15 479.65,416.21 480.16,416.28 480.66,416.35 481.16,416.41 481.66,416.48 482.17,416.54 482.67,416.60 483.17,416.67 483.68,416.73 484.18,416.79 484.68,416.85 485.19,416.91 485.69,416.97 486.19,417.03 486.69,417.09 487.20,417.15 487.70,417.20 488.22,417.26 488.73,417.32 489.25,417.37 489.76,417.43 490.28,417.48 490.79,417.53 491.31,417.59 491.82,417.64 492.34,417.69 492.85,417.74 493.37,417.80 493.88,417.85 494.40,417.90 494.91,417.95 495.43,418.00 495.94,418.05 496.46,418.09 496.97,418.14 497.49,418.19 498.00,418.24 498.52,418.29 499.03,418.33 499.55,418.38 500.06,418.42 500.58,418.47 501.09,418.51 501.61,418.56 502.12,418.60 502.64,418.65 503.15,418.69 503.67,418.73 504.18,418.77 504.70,418.82 505.21,418.86 505.73,418.90 506.24,418.94 506.76,418.98 507.27,419.02 507.79,419.06 508.30,419.10 508.82,419.14 509.33,419.18 509.85,419.22 510.36,419.26 510.88,419.29 511.39,419.33 511.91,419.37 512.42,419.41 512.94,419.44 513.45,419.48 513.97,419.52 514.48,419.55 515.00,419.59 515.51,419.62 516.03,419.66 516.54,419.69 517.06,419.73 517.57,419.76 518.09,419.80 518.60,419.83 519.12,419.86 519.63,419.90 520.15,419.93 520.66,419.96 521.18,419.99 521.69,420.03 522.21,420.06 522.72,420.09 523.24,420.12 523.75,420.15 524.27,420.18 524.78,420.21 525.30,420.24 525.81,420.27 526.33,420.30 526.84,420.33 527.36,420.36 527.87,420.39 528.39,420.42 528.90,420.45 529.42,420.48 529.93,420.51 530.45,420.54 530.96,420.56 531.48,420.59 531.99,420.62 532.51,420.65 533.02,420.67 533.54,420.70 534.05,420.73 534.57,420.75 535.08,420.78 535.60,420.81 536.11,420.83 536.63,420.86 537.14,420.88 537.66,420.91 538.17,420.93 538.68,420.96 539.20,420.98" fill="none" stroke="#007f00" stroke-width="2.4" stroke-dasharray="6.3 2.8 2.4 2.7" stroke-linejoin="round" clip-path="url(#clip-c)"/>
<polyline points="233.60,415.24 234.10,415.20 234.61,415.17 235.11,415.13 235.62,415.09 236.12,415.05 236.62,415.02 237.13,414.98 237.63,414.94 238.14,414.90 238.64,414.86 239.14,414.82 239.65,414.78 240.15,414.74 240.66,414.70 241.16,414.66 241.66,414.62 242.17,414.58 242.67,414.54 243.18,414.50 243.68,414.46 244.18,414.41 244.69,414.37 245.19,414.33 245.70,414.28 246.20,414.24 246.70,414.20 247.21,414.15 247.71,414.11 248.22,414.06 248.72,414.02 249.22,413.97 249.73,413.92 250.23,413.88 250.74,413.83 251.24,413.78 251.74,413.74 252.25,413.69 252.75,413.64 253.26,413.59 253.76,413.54 254.26,413.49 254.77,413.44 255.27,413.39 255.78,413.34 256.28,413.29 256.78,413.24 257.29,413.18 257.79,413.13 258.30,413.08 258.80,413.02 259.30,412.97 259.81,412.92 260.31,412.86 260.82,412.81 261.32,412.75 261.82,412.69 262.33,412.64 262.83,412.58 263.34,412.52 263.84,412.46 264.34,412.40 264.85,412.34 265.35,412.28 265.86,412.22 266.36,412.16 266.86,412.10 267.37,412.04 267.87,411.98 268.38,411.91 268.88,411.85 269.38,411.79 269.89,411.72 270.39,411.66 270.90,411.59 271.40,411.52 271.90,411.46 272.41,411.39 272.91,411.32 273.42,411.25 273.92,411.18 274.42,411.11 274.93,411.04 275.43,410.97 275.94,410.89 276.44,410.82 276.94,410.75 277.45,410.67 277.95,410.60 278.46,410.52 278.96,410.45 279.46,410.37 279.97,410.29 280.47,410.21 280.98,410.13 281.48,410.05 281.98,409.97 282.49,409.89 282.99,409.80 283.50,409.72 284.00,409.64 284.52,409.55 285.03,409.46 285.55,409.38 286.06,409.29 286.58,409.20 287.10,409.11 287.61,409.01 288.13,408.92 288.64,408.83 289.16,408.73 289.68,408.64 290.19,408.54 290.71,408.44 291.22,408.34 291.74,408.24 292.26,408.14 292.77,408.04 293.29,407.93 293.80,407.83 294.32,407.72 294.84,407.62 295.35,407.51 295.87,407.40 296.38,407.29 296.90,407.18 297.42,407.06 297.93,406.95 298.45,406.84 298.96,406.72 299.48,406.60 300.00,406.48 300.51,406.36 301.03,406.24 301.54,406.12 302.06,406.00 302.58,405.87 303.09,405.75 303.61,405.62 304.12,405.49 304.64,405.36 305.16,405.23 305.67,405.10 306.19,404.97 306.70,404.83 307.22,404.70 307.74,404.56 308.25,404.42 308.77,404.28 309.28,404.14 309.80,404.00 310.32,403.86 310.83,403.72 311.35,403.58 311.86,403.44 312.38,403.29 312.90,403.15 313.41,403.01 313.93,402.87 314.44,402.73 314.96,402.59 315.48,402.44 315.99,402.30 316.51,402.16 317.02,402.01 317.54,401.87 318.06,401.72 318.57,401.57 319.09,401.42 319.60,401.27 320.12,401.12 320.64,400.96 321.15,400.81 321.67,400.65 322.18,400.49 322.70,400.33 323.22,400.16 323.73,399.99 324.25,399.82 324.76,399.65 325.28,399.47 325.80,399.29 326.31,399.10 326.83,398.91 327.34,398.72 327.86,398.52 328.38,398.32 328.89,398.11 329.41,397.90 329.92,397.69 330.44,397.46 330.96,397.24 331.47,397.00 331.99,396.76 332.50,396.51 333.02,396.26 333.54,396.00 334.05,395.73 334.57,395.46 335.08,395.18 335.60,394.88 336.11,394.59 336.63,394.28 337.14,393.97 337.66,393.66 338.17,393.34 338.68,393.01 339.20,392.68 339.71,392.35 340.23,392.00 340.74,391.65 341.25,391.30 341.77,390.94 342.28,390.57 342.80,390.19 343.31,389.81 343.82,389.42 344.34,389.02 344.85,388.62 345.37,388.20 345.88,387.78 346.39,387.35 346.91,386.92 347.42,386.47 347.94,386.02 348.45,385.55 348.96,385.08 349.48,384.60 349.99,384.10 350.51,383.60 351.02,383.09 351.53,382.56 352.05,382.03 352.56,381.48 353.08,380.93 353.59,380.36 354.10,379.78 354.62,379.19 355.13,378.58 355.65,377.96 356.16,377.33 356.67,376.68 357.19,376.02 357.70,375.35 358.22,374.66 358.73,373.96 359.24,373.24 359.76,372.50 360.27,371.75 360.79,370.99 361.30,370.20 361.81,369.40 362.33,368.58 362.84,367.74 363.36,366.89 363.87,366.02 364.38,365.12 364.90,364.21 365.41,363.28 365.93,362.33 366.44,361.36 366.95,360.37 367.47,359.36 367.98,358.33 368.50,357.28 369.01,356.21 369.52,355.12 370.04,354.01 370.55,352.88 371.07,351.73 371.58,350.57 372.09,349.39 372.61,348.19 373.12,346.98 373.64,345.75 374.15,344.51 374.66,343.26 375.18,342.00 375.69,340.73 376.21,339.46 376.72,338.19 377.23,336.92 377.75,335.66 378.26,334.40 378.78,333.16 379.29,331.93 379.80,330.73 380.32,329.55 380.83,328.41 381.35,327.30 381.86,326.23 382.37,325.22 382.89,324.25 383.40,323.35 383.92,322.51 384.43,321.74 384.94,321.05 385.46,320.44 385.97,319.92 386.49,319.48 387.00,319.14 387.50,318.89 388.01,318.75 388.51,318.70 389.02,318.75 389.52,318.89 390.02,319.14 390.53,319.48 391.03,319.92 391.54,320.45 392.04,321.06 392.54,321.75 393.05,322.53 393.55,323.37 394.06,324.28 394.56,325.25 395.06,326.28 395.57,327.36 396.07,328.48 396.58,329.64 397.08,330.83 397.58,332.05 398.09,333.29 398.59,334.55 399.10,335.83 399.60,337.11 400.10,338.40 400.61,339.69 401.11,340.99 401.62,342.28 402.12,343.56 402.62,344.83 403.13,346.10 403.63,347.35 404.14,348.59 404.64,349.81 405.14,351.02 405.65,352.21 406.15,353.38 406.66,354.53 407.16,355.66 407.66,356.78 408.17,357.87 408.67,358.95 409.18,360.00 409.68,361.03 410.18,362.05 410.69,363.04 411.19,364.01 411.70,364.97 412.20,365.90 412.70,366.81 413.21,367.71 413.71,368.58 414.22,369.44 414.72,370.28 415.22,371.10 415.73,371.90 416.23,372.69 416.74,373.46 417.24,374.21 417.74,374.94 418.25,375.66 418.75,376.37 419.26,377.06 419.76,377.73 420.26,378.39 420.77,379.04 421.27,379.67 421.78,380.29 422.28,380.90 422.78,381.49 423.29,382.07 423.79,382.64 424.30,383.20 424.80,383.74 425.30,384.28 425.81,384.80 426.31,385.31 426.82,385.81 427.32,386.31 427.82,386.79 428.33,387.26 428.83,387.72 429.34,388.18 429.84,388.62 430.34,389.06 430.85,389.48 431.35,389.90 431.86,390.31 432.36,390.72 432.86,391.11 433.37,391.50 433.87,391.88 434.38,392.25 434.88,392.62 435.38,392.98 435.89,393.33 436.39,393.67 436.90,394.01 437.40,394.35 437.90,394.67 438.41,394.99 438.91,395.31 439.41,395.62 439.91,395.92 440.42,396.22 440.92,396.52 441.42,396.81 441.93,397.09 442.43,397.37 442.93,397.65 443.44,397.92 443.94,398.18 444.44,398.44 444.94,398.70 445.45,398.96 445.95,399.20 446.45,399.45 446.96,399.69 447.46,399.93 447.96,400.16 448.47,400.39 448.97,400.62 449.47,400.84 449.97,401.06 450.48,401.28 450.98,401.50 451.48,401.71 451.99,401.91 452.49,402.12 452.99,402.32 453.50,402.52 454.00,402.71 454.50,402.91 455.00,403.10 455.51,403.28 456.01,403.47 456.51,403.65 457.02,403.83 457.52,404.01 458.02,404.18 458.53,404.36 459.03,404.53 459.53,404.70 460.03,404.86 460.54,405.03 461.04,405.19 461.54,405.35 462.05,405.51 462.55,405.66 463.05,405.82 463.56,405.97 464.06,406.12 464.56,406.27 465.06,406.41 465.57,406.56 466.07,406.70 466.57,406.84 467.08,406.98 467.58,407.12 468.08,407.26 468.59,407.39 469.09,407.52 469.59,407.65 470.10,407.78 470.60,407.91 471.10,408.04 471.60,408.17 472.11,408.29 472.61,408.41 473.11,408.54 473.62,408.66 474.12,408.78 474.62,408.89 475.12,409.01 475.63,409.13 476.13,409.24 476.63,409.35 477.14,409.47 477.64,409.58 478.14,409.69 478.65,409.79 479.15,409.90 479.65,410.01 480.16,410.11 480.66,410.22 481.16,410.32 481.66,410.42 482.17,410.53 482.67,410.63 483.17,410.73 483.68,410.83 484.18,410.92 484.68,411.02 485.19,411.12 485.69,411.21 486.19,411.31 486.69,411.40 487.20,411.49 487.70,411.58 488.22,411.68 488.73,411.77 489.25,411.86 489.76,411.95 490.28,412.03 490.79,412.12 491.31,412.21 491.82,412.30 492.34,412.38 492.85,412.47 493.37,412.55 493.88,412.64 494.40,412.72 494.91,412.81 495.43,412.89 495.94,412.97 496.46,413.06 496.97,413.14 497.49,413.22 498.00,413.30 498.52,413.38 499.03,413.46 499.55,413.54 500.06,413.62 500.58,413.69 501.09,413.77 501.61,413.85 502.12,413.93 502.64,414.00 503.15,414.08 503.67,414.15 504.18,414.23 504.70,414.30 505.21,414.38 505.73,414.45 506.24,414.52 506.76,414.59 507.27,414.67 507.79,414.74 508.30,414.81 508.82,414.88 509.33,414.95 509.85,415.02 510.36,415.09 510.88,415.16 511.39,415.23 511.91,415.30 512.42,415.36 512.94,415.43 513.45,415.50 513.97,415.56 514.48,415.63 515.00,415.70 515.51,415.76 516.03,415.83 516.54,415.89 517.06,415.96 517.57,416.02 518.09,416.08 518.60,416.15 519.12,416.21 519.63,416.27 520.15,416.33 520.66,416.40 521.18,416.46 521.69,416.52 522.21,416.58 522.72,416.64 523.24,416.70 523.75,416.76 524.27,416.82 524.78,416.88 525.30,416.94 525.81,416.99 526.33,417.05 526.84,417.11 527.36,417.17 527.87,417.22 528.39,417.28 528.90,417.34 529.42,417.39 529.93,417.45 530.45,417.50 530.96,417.56 531.48,417.61 531.99,417.66 532.51,417.72 533.02,417.77 533.54,417.83 534.05,417.88 534.57,417.93 535.08,417.98 535.60,418.04 536.11,418.09 536.63,418.14 537.14,418.19 537.66,418.24 538.17,418.29 538.68,418.34 539.20,418.39" fill="none" stroke="#ff0000" stroke-width="2.4" stroke-dasharray="6.4 2.7" stroke-linejoin="round" clip-path="url(#clip-c)"/>
<text class="tk" x="233.0" y="445.5" text-anchor="middle">0.7</text>
<text class="tk" x="283.4" y="445.5" text-anchor="middle">0.8</text>
<text class="tk" x="335.0" y="445.5" text-anchor="middle">0.9</text>
<text class="tk" x="386.4" y="445.5" text-anchor="middle">1</text>
<text class="tk" x="436.8" y="445.5" text-anchor="middle">1.1</text>
<text class="tk" x="487.1" y="445.5" text-anchor="middle">1.2</text>
<text class="tk" x="229.1" y="434.3" text-anchor="end">0</text>
<text class="tk" x="229.1" y="376.7" text-anchor="end">0.1</text>
<text class="tk" x="229.1" y="319.1" text-anchor="end">0.2</text>
<text class="lb" x="318.2" y="461.9" textLength="135" lengthAdjust="spacingAndGlyphs">Normalized frequency</text>
<text class="yl" transform="translate(201.3,376.1) rotate(-90)" textLength="69.3" lengthAdjust="spacingAndGlyphs">Efficiency</text>
<text class="cp" x="388" y="487.2" text-anchor="middle">(c)</text>
<rect x="436.4" y="257.0" width="101.20" height="68.30" fill="#fff"/>
<rect x="437.4" y="257.5" width="99.20" height="66.80" fill="#fff" stroke="#000" stroke-width="1.1"/>
<line x1="442.7" y1="269.8" x2="467.2" y2="269.8" stroke="#0000ff" stroke-width="2.2" />
<text class="lg" x="469.8" y="275.6" textLength="52.3" lengthAdjust="spacingAndGlyphs">Hybrid</text>
<line x1="442.7" y1="291.0" x2="467.2" y2="291.0" stroke="#007f00" stroke-width="2.2" stroke-dasharray="7.5 3 2.3 2.7"/>
<text class="lg" x="469.8" y="298.0" textLength="62.6" lengthAdjust="spacingAndGlyphs">EM only</text>
<line x1="442.7" y1="312.3" x2="467.2" y2="312.3" stroke="#ff0000" stroke-width="2.2" stroke-dasharray="6.8 2.5"/>
<text class="lg" x="469.8" y="318.6" textLength="57.4" lengthAdjust="spacingAndGlyphs">PE only</text>
</g>
</svg></body></html>
